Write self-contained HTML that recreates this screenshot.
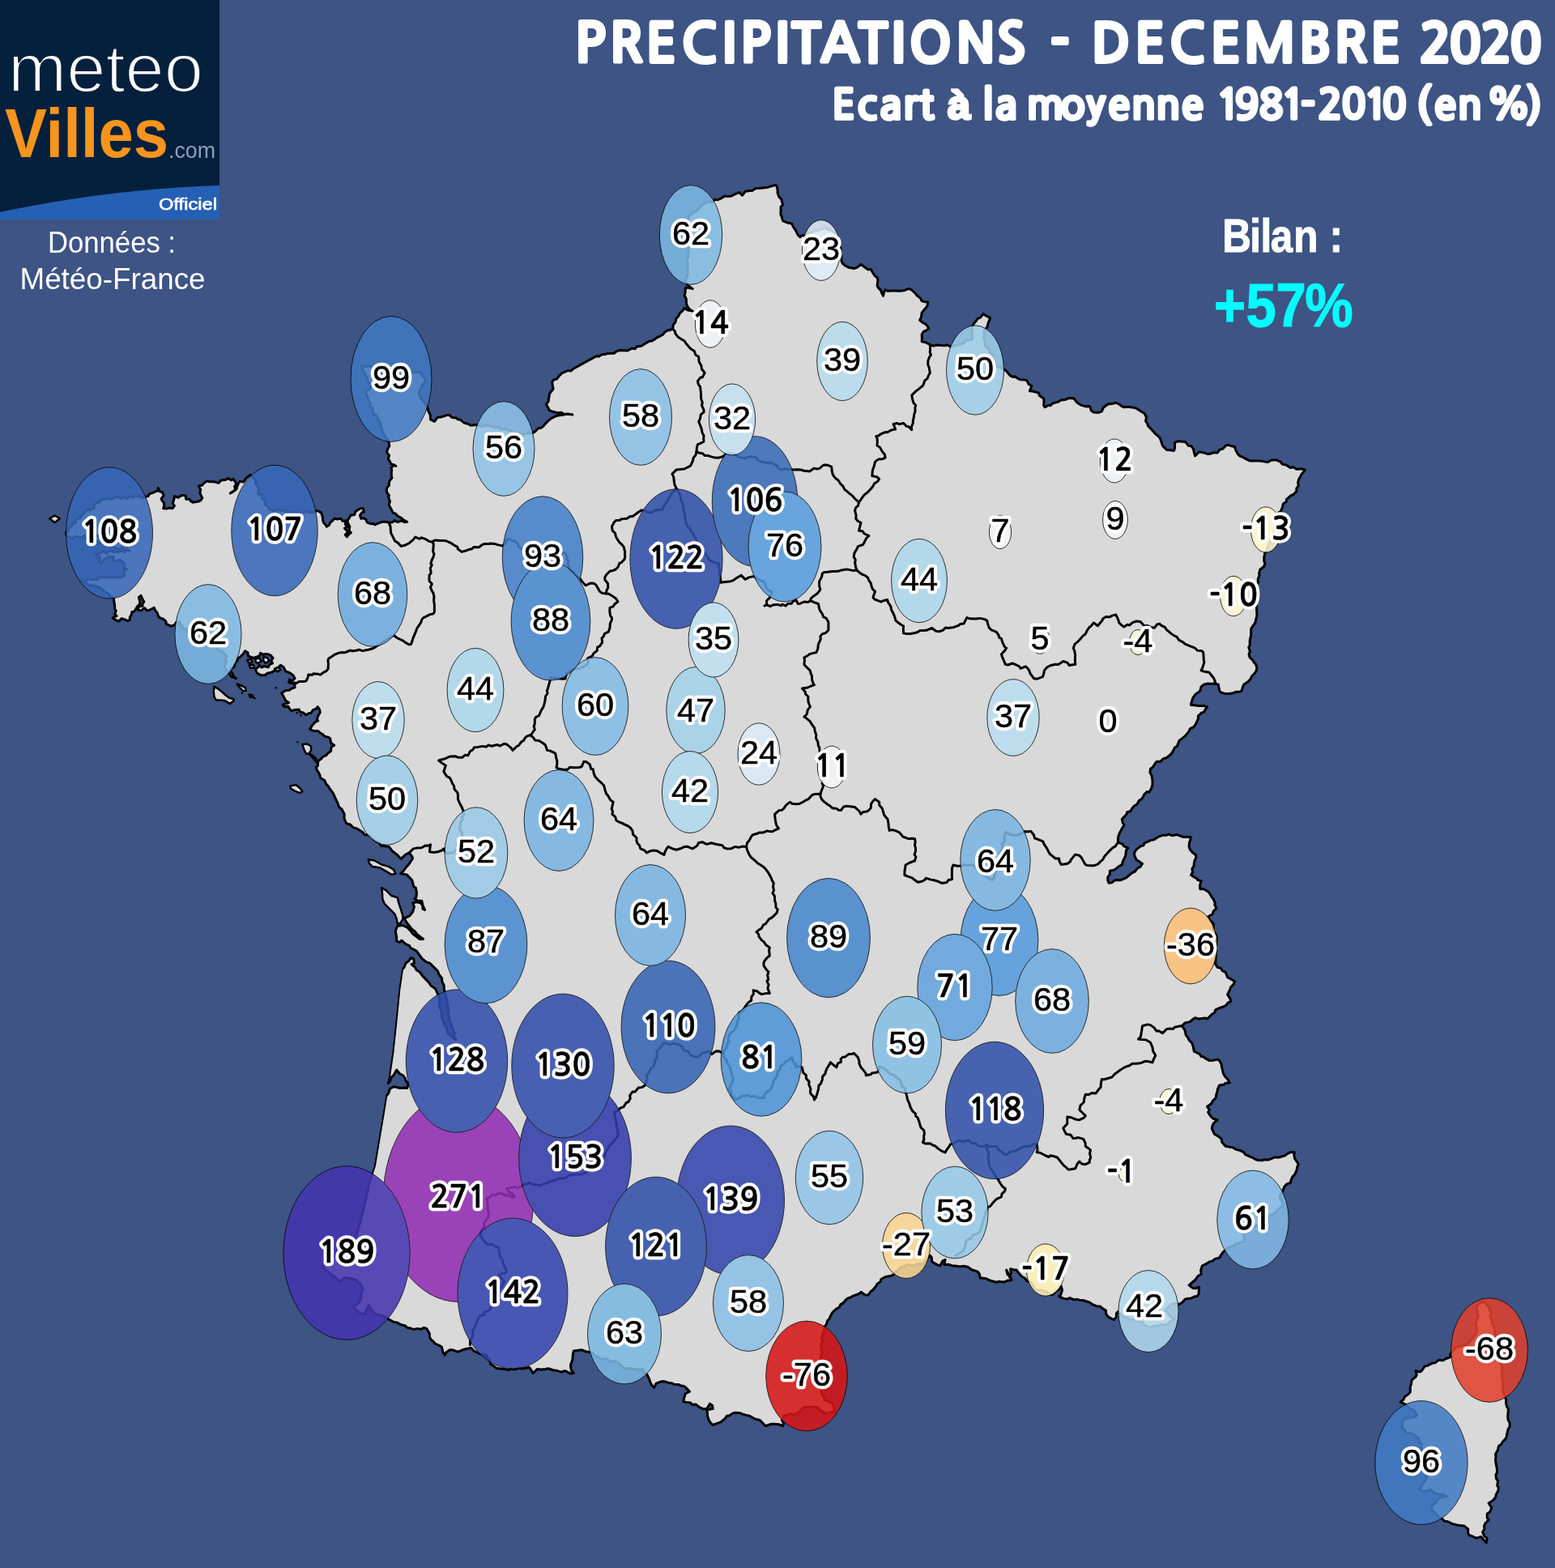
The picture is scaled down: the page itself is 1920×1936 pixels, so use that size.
<!DOCTYPE html>
<html lang="fr"><head><meta charset="utf-8"><title>Précipitations - Décembre 2020</title>
<style>
html,body{margin:0;padding:0;background:#3d5484;}
body{width:1920px;height:1936px;overflow:hidden;position:relative;font-family:"Liberation Sans",sans-serif;}
svg{position:absolute;left:0;top:0;display:block;}
.el{stroke:#000;stroke-width:.9px;}
.n{font-family:"NanumGothic","Liberation Sans",sans-serif;font-size:38px;font-weight:bold;}
.t{font-family:"Liberation Sans",sans-serif;fill:#fff;}
.tn{font-family:"NanumGothic","Liberation Sans",sans-serif;fill:#fff;}
</style></head><body>
<svg width="1920" height="1936" viewBox="0 0 1920 1936">
<rect width="1920" height="1936" fill="#3d5484"/>
<g fill="#d9d9d9" stroke="#000" stroke-width="3" stroke-linejoin="round">
<path stroke-width="2" d="M957.9,228.1 959.6,231.7 960.2,235.6 960,237.8 961.6,242.6 965,246.2 965.2,248.2 966.6,252.6 964,255.8 964.1,260.1 963.9,264.4 965.1,267.4 966.6,272.7 971.3,274.7 974.8,275.5 977.9,276.4 979.1,279.5 982.9,285.2 984.9,289.7 987.9,292.7 989.7,291.1 995,290.4 998,287.7 1003.1,286.7 1005.5,285.2 1010.7,284.6 1013.8,282.8 1018,281.9 1020.5,281.4 1022.2,283.8 1027,284.2 1030.5,287.7 1030.6,292 1032.9,295.2 1034.8,299.3 1037,303.8 1038,307.7 1038.6,313.6 1038.9,318.1 1039.1,322.8 1040.5,325.3 1043,327.6 1048.1,330.3 1055,331.4 1058.1,330.3 1063.1,326.5 1068.1,330.3 1071.7,332.8 1075.6,332.8 1077,335.7 1080,340.3 1083.1,342.8 1084,345.4 1083.1,352.9 1084.4,355.3 1088,358.8 1088.2,360.9 1090.6,365.3 1091.6,360.5 1093.2,357.8 1095.7,359.2 1100,358.9 1105.7,359.1 1109.6,359.2 1116.3,358.7 1120.6,357 1123.2,356.6 1126,358.2 1130.7,362.8 1132,364.8 1136.2,367.9 1138.2,371.6 1140.9,372.4 1145.8,372.9 1144.9,377.8 1142.4,381 1140.8,382.9 1138.2,386.2 1137.5,391.3 1135.7,395.4 1139.6,398.5 1143.3,400.4 1147,405.4 1143.7,408 1140.3,409.4 1138.2,412.9 1138.4,418.1 1138.2,421.7 1142.7,422.6 1148.3,425.5 1152.7,427.2 1155.3,426.1 1161.7,426.2 1165.8,426.7 1170.1,426 1173.3,428 1175.7,427.7 1180.3,426.4 1183.6,425.6 1188.2,424.4 1190.9,423 1192.4,420.6 1199,419.5 1200.9,418 1200,414.5 1200.8,411.2 1199.9,407.6 1200.1,403.4 1202.5,399.4 1205.1,396.4 1207.3,393.3 1210.4,392.2 1213.9,387.6 1219,390.6 1222.7,392.4 1220.2,398.9 1218.9,403.9 1214.7,409.2 1215.5,412.3 1214.3,416.6 1216.5,421.1 1215.9,425.5 1217.1,428 1221,431 1222.5,435.3 1225.9,438 1225.8,441.1 1229,445.8 1228.5,449.5 1230.9,453 1233.8,453.1 1238.5,455.5 1241,456.8 1243.2,459 1247.3,463.8 1250.1,465.2 1253.4,465 1257.9,468.1 1260.7,468.8 1265.2,468.9 1268.3,470.2 1269.9,474.2 1273.9,476.5 1271.4,482.7 1275,483 1278.7,484.1 1282.7,485.2 1283.2,488.3 1288.9,492.3 1289,495.2 1288.7,500.7 1290.2,502.8 1294.7,500.3 1296.8,500.9 1300.3,497.7 1306.9,496 1310.3,494 1315.1,493.6 1318.8,491.8 1324.1,491.5 1326.5,492.5 1329.2,496.3 1332.8,499 1335.3,500.4 1341.5,502 1345.3,501.5 1347.6,507.2 1350.4,509 1355.9,509.6 1360.4,507.8 1362.3,503.3 1364.3,501.8 1367.9,499 1373.1,498.6 1377.9,497.2 1382.5,499.5 1384,501 1387.9,502.8 1393.3,502.3 1397.3,503.1 1400.5,503.3 1403.9,504.7 1409.8,508.6 1413,510.3 1415.5,515.2 1414.6,520 1416.7,522.8 1417.4,525.6 1421.8,530.3 1426.4,535.4 1429.3,537.8 1432.2,540.6 1434.1,546 1435.5,550.4 1440.5,555.4 1444.8,555.8 1449.3,556.6 1450.5,553.7 1450.6,546.6 1453.9,544.8 1460.6,545.3 1463.3,545.4 1467.6,550.5 1470.6,550.4 1473.4,554.1 1474.2,557.9 1475.6,562.9 1480.6,557.9 1486.3,558.9 1490.6,560.4 1494.4,560.3 1498.3,558.7 1503.2,559.1 1505.9,555.2 1510,554.1 1513.2,550.4 1516.1,549.4 1521.1,550.9 1524.5,551.6 1525.6,555.4 1528,559.9 1530.7,562.9 1534.6,564.6 1539.8,567.4 1543.3,569.1 1548.1,568.9 1550.8,569 1555.8,569.1 1561.6,570 1565.8,570.4 1570.2,568 1575.8,567.9 1581.4,570.4 1583.2,573.1 1588.4,574.2 1593.1,577.4 1596.9,576.8 1600.9,579.2 1607.6,578.8 1611.4,580.4 1607.4,585 1605.9,587.9 1603.6,591.9 1602.7,595.4 1603.2,599.9 1600.9,603 1600.9,606.4 1597.1,610.5 1593.9,611.8 1588.4,616.7 1588.3,619.5 1584.4,622.1 1583.3,626.8 1581.2,631.6 1578.3,633 1578.3,638 1575.9,641.4 1574.4,644.2 1574.4,646.5 1573.3,651.7 1573.3,655.6 1563.3,680.6 1561.8,683 1560.8,688.1 1560.9,693.3 1562,695.7 1560.4,699.8 1555.8,703.2 1554.6,708.1 1555.1,710.2 1553.3,715 1553.4,719.2 1551.4,722.1 1551.9,726.1 1550.8,730.1 1552,760.1 1550.9,764.2 1549.8,769 1547,772.7 1544.8,776.3 1544.8,779.8 1544.5,785.2 1543.4,789.7 1543.1,792.7 1543.3,796.9 1541.8,799 1543.5,804.8 1542,807.7 1543.1,811.7 1546.7,814.9 1548.3,817.7 1550.7,820.4 1552,825.3 1550.8,829.1 1549.1,831.2 1545.2,835.5 1544.5,837.8 1541.5,841.2 1538,843.7 1535.7,845.3 1534.4,848.3 1533.2,852.8 1530.9,854.1 1525.6,854.3 1521.8,856 1516.4,856.5 1513.2,856.6 1507.5,854.9 1505.7,852.8 1504.9,848.8 1504.4,845.3 1500.7,844.1 1494.3,844.2 1490.6,844.1 1486.3,845.2 1483.1,847.8 1481.9,852.8 1478.2,855.8 1475.6,857.8 1473.1,861.3 1471,867.5 1470.6,870.4 1474.5,870.8 1480.6,871.6 1486.6,871.6 1490.6,872.9 1487.6,876.9 1486.9,879.1 1483.3,880.2 1479.4,884.1 1479.3,887.9 1476.9,892.9 1474.2,897.4 1469.3,899.9 1468.1,902.9 1464.3,907.7 1462,909.8 1458.1,912.9 1455.9,914.7 1453.4,921.3 1450.6,923 1448.1,928 1445.2,931.8 1440.5,935.5 1435.7,937.2 1433.3,940 1428,940.5 1425.7,943.5 1423.5,947.1 1420.5,949.3 1419.9,953.7 1421.8,957.1 1423,963 1423,968.8 1421.8,973.1 1419,978 1416.2,977.5 1412.6,981.3 1410.5,985.6 1406.2,988.8 1404.2,992.7 1400,995.4 1398,998.1 1395.5,1001.8 1391.6,1002.8 1391.1,1005.1 1388.2,1008.4 1385.4,1011.3 1386.2,1015.8 1387.9,1018.8 1385.9,1022 1382.9,1027.6 1381.1,1031.6 1380.4,1035.1 1380.4,1040.1 1386.3,1042.3 1387.2,1044.5 1392.9,1047.1 1390.5,1049.7 1389.7,1056.7 1387.9,1060.1 1386.3,1063.9 1385.4,1067.6 1381.5,1069.7 1377.9,1072.7 1375.3,1074.2 1370.4,1075.2 1370.2,1080 1367.9,1082.7 1367.8,1086.7 1369.1,1090.2 1372.7,1089.8 1376.1,1087.1 1380.4,1086.4 1383.8,1086.7 1390.4,1083.9 1393.4,1081.4 1398,1077.7 1401.4,1076.1 1404.1,1072.4 1408,1070.1 1410.5,1066.4 1406,1063.3 1403,1061.4 1401,1056.7 1400.5,1053.9 1401.7,1050.8 1403.8,1048.2 1408,1045.1 1412.1,1043.6 1413,1041 1417.9,1038.9 1420.5,1037.6 1425.4,1036.6 1427,1035.1 1430.7,1033 1435.5,1031.3 1440.1,1031.2 1443.4,1030.1 1447.1,1031.7 1453.1,1030.6 1458.7,1032.5 1461.2,1033.5 1466.5,1033.2 1470.6,1033.8 1469.1,1038.9 1468.5,1040.6 1468.1,1045.1 1469.4,1049.1 1472.6,1052.8 1476.4,1055.4 1476.9,1058.9 1475.2,1062.2 1474.4,1065.7 1474,1069.6 1471.9,1072.7 1472.6,1076.7 1470.6,1080.2 1473.4,1082.4 1477.9,1084.8 1478.5,1086.3 1483.1,1087.7 1481.6,1093.1 1481.9,1097.7 1486.1,1097.5 1490.6,1100.2 1492.9,1101.9 1496.4,1108.1 1498.2,1110.2 1500.3,1114.9 1499.8,1116.8 1501.9,1121.5 1498.3,1125 1496.9,1129 1491.9,1131.5 1493.3,1135.7 1495.3,1137.4 1498.2,1140.3 1498.1,1145.5 1498.3,1147.8 1499.3,1151.6 1501.6,1153.7 1502.4,1157.9 1501.9,1162.8 1500.7,1190.4 1503.2,1194.2 1507.1,1195.4 1509.7,1198.9 1513.2,1200.4 1515.7,1206.7 1520.7,1209.3 1524.5,1211.7 1523,1215.6 1519.8,1218.6 1518.2,1223 1515.7,1228 1519.1,1233.4 1519.5,1236.7 1516.5,1238 1513.8,1241.3 1510.7,1243 1506.7,1244.2 1500.7,1246.8 1499.9,1250.1 1495.7,1253 1490.6,1258 1488,1256.9 1484,1257.6 1480.3,1258 1475.6,1256.8 1472.7,1258.6 1469.2,1261.6 1463.1,1263 1459.3,1266.8 1461.9,1270.1 1463.2,1272.4 1464.3,1278.1 1466.8,1281.1 1468,1283.9 1471.9,1288.1 1473.3,1292.6 1474.4,1298.1 1481.2,1301.3 1483.1,1304.4 1485.7,1304.8 1489,1307.2 1493.2,1309.4 1497.6,1309.2 1503.2,1308.1 1505.7,1309.4 1508.2,1314.4 1508.6,1317.8 1509.8,1322.4 1510.5,1325.9 1513.2,1330 1515.8,1332.4 1518.2,1337 1513.4,1337.2 1511.3,1339.1 1505.7,1340 1503.4,1345 1503.4,1345.9 1501.9,1351.3 1501.4,1355 1496.9,1360.1 1495.6,1362.8 1490.6,1366.3 1493.3,1370.1 1491.7,1373.3 1494.4,1377.6 1498,1381.3 1503.2,1382.6 1498.3,1387 1496.9,1390.1 1496.4,1393.6 1499.4,1400.2 1504.5,1403.1 1508.2,1406.4 1508.7,1410 1513.2,1415.2 1518.7,1416.2 1521.5,1416.5 1525.7,1419 1531.6,1420.6 1535.7,1422.7 1537.5,1425.3 1542.7,1427.9 1545.8,1429 1549.9,1431.3 1553.3,1432.5 1558.3,1432.7 1561.5,1431.8 1566.7,1431.9 1570.8,1430.2 1573.7,1428.9 1579.6,1429.1 1583.3,1427.7 1586.6,1426.8 1589.1,1424.8 1593.4,1422.7 1598.4,1422.7 1597.8,1425 1598.4,1430.2 1601.5,1434.7 1603.4,1437.7 1602,1440.1 1600.9,1445.3 1598.4,1450.5 1595.9,1452.8 1593.9,1457.6 1593.4,1460.3 1589.1,1461.8 1585.8,1465.3 1583.3,1471.6 1580.8,1475.3 1580.4,1480 1582.5,1482.4 1583.9,1486.1 1583.3,1490.4 1580.5,1490.6 1578.1,1493.6 1574.6,1497.7 1572.8,1498.3 1568.3,1500.4 1565.5,1504 1563.1,1504.2 1558.3,1509.5 1555.8,1510.4 1552.7,1512.9 1548.5,1514.3 1544.8,1515.5 1543.2,1516.6 1540.6,1519 1535.7,1520.4 1534.7,1523.3 1537.1,1530.3 1535.7,1532.9 1529.3,1535.4 1525.7,1535.4 1523,1538.2 1518.5,1540 1515.7,1540.5 1510.7,1545.5 1507.6,1549.5 1505.7,1553 1500,1554.4 1497.2,1556.9 1493.2,1558 1490.3,1559.9 1484.4,1563 1482.7,1568.2 1483.1,1573 1479.6,1575.2 1475.6,1580.5 1471.9,1583.5 1468.1,1586.8 1473.1,1590.6 1475.7,1590.8 1480.6,1589.3 1480.2,1593.1 1480.2,1597.3 1478.1,1600.6 1474.4,1601.1 1470.6,1603.1 1466.5,1603.3 1463.1,1604.3 1460.3,1607.7 1455.6,1610.6 1451.3,1609.1 1445.6,1610.6 1443.2,1613.3 1438,1618.1 1440.8,1619.3 1444.1,1624.6 1448,1627.5 1450.6,1628.1 1445.9,1631.2 1444,1632.9 1440.5,1635.7 1435,1635.4 1432.3,1635.8 1428.6,1637.1 1422.9,1637.4 1420.5,1639.4 1415.1,1637 1413.7,1636.5 1410.2,1632.6 1405.5,1630.6 1401,1629.2 1396.3,1629.2 1393.5,1627.6 1388.5,1625.8 1385.4,1624.4 1380.4,1619.4 1378.4,1621.8 1378.4,1626.1 1375.4,1629.4 1372.8,1628.4 1367.9,1625.6 1365.4,1621.4 1365.4,1618.1 1361.1,1615.3 1358.4,1613 1355.4,1613.1 1352.8,1612.2 1348.5,1610.3 1345.3,1608.1 1341.4,1606.7 1337.8,1605.6 1332.9,1605.2 1330.3,1604.3 1326,1604.7 1320.6,1602.5 1318,1604.1 1312.8,1603.1 1307.8,1600.6 1309.7,1598.7 1311.5,1593.1 1310.3,1588.1 1307.7,1592.3 1304.4,1593.8 1300.3,1598.1 1296.9,1598.6 1292.6,1595.3 1287.7,1593.5 1286.1,1593.1 1280.2,1593.1 1277.9,1591.6 1275.4,1586.9 1272.7,1583 1268.1,1581.5 1265.2,1578 1261.5,1576 1257.2,1571.1 1255.2,1568 1252.1,1567.8 1247.6,1566.8 1248.4,1571.7 1246.4,1576.8 1244.6,1571.6 1242.6,1568 1244.1,1573.8 1246.9,1574.8 1248.9,1580.5 1243.3,1581.3 1240.1,1583 1235.4,1582.6 1233.3,1582.3 1230.2,1583.2 1225.1,1581.8 1220.3,1580.1 1218,1578.7 1212.7,1578.1 1210.1,1578 1209.6,1573.6 1207.6,1570.5 1203.2,1568.6 1199.8,1567.8 1195,1564.3 1189.8,1563.3 1187.8,1563.5 1183.8,1563.8 1180,1563 1175.8,1562.8 1171.1,1561.3 1165.8,1561.5 1167.1,1555.2 1163.8,1557.1 1160.8,1562.8 1157.2,1561.6 1153.1,1559.2 1150.8,1557.7 1150.1,1552.3 1148.3,1550.2 1146.5,1552.1 1143,1556.9 1140.8,1560.3 1137.7,1560.7 1132,1560.6 1129.1,1562.8 1125.7,1562.4 1120.4,1561.4 1118.2,1562.8 1115.6,1563.8 1112.1,1565 1108.2,1569.2 1105.7,1570.3 1103.2,1574 1099.3,1575.6 1093.2,1576.5 1087.8,1579.5 1087.1,1582.5 1083.1,1585.3 1081.8,1587.8 1077.7,1592.8 1075.6,1594.1 1071.9,1599.1 1068,1598.8 1063.1,1595.3 1060.7,1597.5 1053.9,1599.8 1050.6,1601.6 1046.5,1603.2 1045,1604.3 1040.4,1609.5 1038,1610.4 1036.2,1614 1032,1616.5 1028,1620.4 1026.6,1622.5 1023.8,1628.7 1021.8,1630.4 1020.2,1635.8 1018,1637.9 1017.2,1645.1 1015.5,1647.9 1014.6,1652.8 1016,1655.2 1013.8,1659.9 1014.2,1665.5 1015.4,1670.7 1013.4,1672.4 1013.5,1678.2 1015.4,1680.8 1015.7,1687.9 1015.5,1690.5 1016,1693.5 1016.2,1697.7 1015.2,1704.5 1016,1706.3 1013,1713 1014.2,1715.6 1013.8,1719.3 1017.6,1725.3 1018,1728.1 1021.9,1730 1023.6,1730.3 1028,1733.1 1029.9,1739 1030.5,1743.1 1025,1743.6 1020.5,1745.6 1016.6,1743.5 1012.8,1741.3 1010.6,1738.7 1005.5,1736.9 1000.4,1737.5 998.7,1737 992.9,1737.6 990.4,1739.4 988.3,1742.2 985.5,1744.2 980.4,1746.9 976.4,1745.8 973.2,1746.5 967.9,1748.1 965.4,1753.2 967.6,1757.8 966.6,1760.7 961.6,1758.7 959.2,1758.5 955.4,1758.2 951.8,1758.3 945.3,1760.7 941.8,1757 937.8,1753.2 932.9,1752.3 929.2,1750.3 925.3,1748.1 921.6,1747.4 916.5,1745.9 912.8,1744.4 907.4,1744.2 904,1745.4 900.2,1748.1 897.7,1748.1 895.6,1751.2 890.2,1755.7 884.3,1757.9 880.2,1759.4 877,1756.2 875.2,1753.2 873.4,1747.6 873.4,1744.9 872.7,1740.6 877.6,1739.9 880.2,1739.4 879.6,1735.4 876.5,1733.1 874.6,1736.6 872.7,1739.4 867.7,1739.5 862.7,1736.9 859.1,1733.9 854.5,1734.3 852.7,1731.9 846.6,1731.3 843.9,1730.6 844.5,1726.6 846.4,1720.6 851.4,1718.1 847.4,1713.9 845.1,1711.8 840.2,1710.8 838.2,1709.4 833.7,1709.6 830.1,1708.1 826.3,1707.6 820.6,1705.7 817.6,1705.6 814.8,1706.3 810.1,1708.1 807.6,1713.1 804.6,1710.2 802.5,1705.6 801.5,1702.3 798.8,1696.8 795.5,1694.9 793.4,1690.5 791.1,1691.2 784.6,1690.4 781.4,1690.4 777.4,1689.5 774.8,1689.3 770.9,1690.5 768.7,1687.5 763.4,1683 760.5,1681 755.2,1680.8 753.5,1680.9 749.3,1678 745.8,1678 742.7,1678.1 738.9,1675.7 733.3,1673 731.5,1670.7 727.1,1669.2 722.9,1668.7 718.3,1666.7 713.6,1667.3 708.3,1668 707.2,1673.6 707,1678 706.3,1680.6 704.5,1685.5 705.3,1691.8 708.3,1695.5 704.1,1695.9 698.4,1692.8 695.7,1693 693,1694.1 687.6,1692.3 683.2,1691.8 677,1689.8 673.2,1690.5 668.5,1691 663.2,1690.5 658.2,1695.5 655.1,1690.5 653.2,1688 649.5,1689.3 644.5,1690.1 640.6,1689.3 634.8,1691.1 631.6,1689.8 628.5,1691.4 623.1,1690.5 616.7,1689.8 613.1,1689.3 610.1,1687.1 605.6,1684.3 605,1679.5 602.7,1677.6 600.5,1673 593.8,1671.9 590.5,1670.5 585.4,1668.2 581.8,1664.2 575.5,1665.5 571,1666.8 565.5,1669.2 559,1666.8 555.4,1666.7 550.9,1669.7 549.2,1673 547.1,1670.1 545.4,1663 542.5,1661.4 537.3,1659 535.4,1656.7 531.6,1653.3 530.4,1650.4 530.3,1646.5 526.6,1640.4 523.2,1639.2 520.1,1641.3 515.4,1640.4 511.1,1641.4 505.8,1639.8 502.8,1639.2 500.6,1637 494.7,1635.5 490.3,1632.9 486,1632.3 480.3,1629.1 475.3,1625.4 470.7,1624.6 468.8,1623.7 464,1622.5 460.3,1620.4 458.4,1616.8 455.2,1611.6 453.4,1614.3 451.3,1619.3 450.2,1622.9 445.3,1621.5 442.4,1619.4 438.7,1616.8 435.2,1615.4 437.2,1613.1 443.4,1608.3 445.2,1605.3 445.8,1601.3 446,1596.5 447.5,1595 447.7,1590.3 445,1585.1 441.3,1582.6 440.2,1580.3 437.4,1579.9 433.3,1578.5 428.8,1577.7 425.2,1577.8 421.9,1580.7 417.7,1581.5 415.3,1578 410.6,1575 408.2,1573.2 405.1,1570.3 400.5,1566.1 397.6,1564 422.7,1542.7 424,1540.1 429.2,1537.3 431.9,1532.6 435.3,1531.8 439.1,1528.4 440.2,1525.2 447.7,1497.6 455.2,1465.1 460.3,1447.5 462.8,1440 465.3,1425.7 470.3,1395.6 475.3,1365.6 477.3,1353 479.7,1349.7 481.5,1344.3 486.2,1341.8 490.3,1342.5 493.9,1343.5 498.9,1343.1 502.8,1343.5 504.1,1338 501,1334.5 500.3,1331.5 497.8,1328 492.9,1325.2 489.8,1321 487.5,1325.1 486.1,1327.6 482.8,1330.5 481.9,1334.4 479,1338 480.8,1330.5 485.3,1300.4 489.7,1258.8 493.4,1221.5 497.1,1196.6 499,1194.5 501,1189.2 504.6,1186.7 507.7,1182.4 510.8,1184.2 511.4,1189.2 508.1,1190.7 512,1193.7 514.5,1197.9 517.8,1199.7 522,1205.3 526.9,1210.4 529.4,1212.8 532.4,1217.3 536.9,1220.2 538.4,1222.5 540.6,1227.7 542.3,1231.2 543.1,1236.4 542.2,1239.4 543,1244.6 545.1,1247.7 545.6,1252.5 545.2,1256.3 547.9,1261.7 549.3,1266.2 551.7,1268.7 552.6,1275.2 555.5,1277.4 560,1282 563,1283.6 560.4,1279.1 561.5,1276 559.3,1271.2 557.8,1266.4 556.6,1263.7 555.2,1260.6 554.6,1257.4 554.3,1253.8 553.1,1248.6 553.8,1245.6 553,1241.8 551.8,1237.6 552,1234.1 550.2,1229 549.3,1225.2 548.6,1222.5 548.1,1216.5 545.8,1211.9 545.6,1207.8 541.8,1203 540.6,1199.1 536.4,1194.9 534.4,1192.9 530.6,1189.1 527,1188 524.8,1186.7 520.7,1183 517,1178 514.5,1174.3 510.1,1171.9 507.1,1170.6 505.5,1167.7 500.9,1165.6 495.9,1161.2 493.4,1163.4 489.7,1162.1 489.7,1156.9 488.3,1150.1 489.1,1147 490.9,1143.2 497.1,1142.6 502.1,1144.5 507.1,1149.4 509.6,1153 513.3,1155.7 518.3,1159.6 522.6,1159.4 519.5,1157.1 514.5,1153.2 512.8,1150.5 508.3,1147 505.6,1143.3 503.4,1140.7 500.9,1137 499,1133.3 501.6,1132.7 505.8,1130.8 509.6,1125.8 511.4,1119.6 509.6,1114.7 514.5,1113.7 519.5,1114.9 521.9,1118.5 522,1122.1 524.5,1123.4 522.2,1118.4 520.7,1112.2 515.8,1112.2 512,1109.7 514,1107.4 514.5,1102.2 513.3,1096 510.8,1094.7 509.6,1089.8 508.6,1086.5 505.8,1083.6 502.1,1079.9 496.9,1079.1 494.7,1078.6 498.4,1074.9 502.1,1069.9 504.4,1067.6 507.1,1063.7 509.6,1060 508.8,1057.6 505.3,1052.9 500.3,1055.4 495.3,1060.5 490.3,1055.4 486,1052 484.2,1050.7 480.3,1045.4 476,1044.8 470.3,1044.2 468.7,1041 462.8,1037.9 457.7,1032.9 454.6,1030.9 450.2,1030.4 447.6,1027.3 444.3,1025.3 440.2,1022.9 435.8,1021.6 432.8,1018.2 427.7,1016.6 426.1,1013.3 425,1009.9 425.2,1005.3 423.3,1001.6 421.8,998.7 418.7,996.8 417.3,992.4 415.2,987.8 413.7,984.9 411.7,980.1 409.2,976.4 407.3,974 405.1,970.3 403,968.6 400.8,963.5 395.8,960.5 395.1,957.7 393.5,953.9 392.1,952.1 390.1,947.7 392.4,945.4 392.6,940.2 397,936.4 398.6,934.3 402.6,932.7 404.6,930.2 408.5,927.5 409,922.5 412.7,920.2 408.6,917.2 407.7,911.7 405.1,910.1 400.8,909.1 398.6,906.9 395.9,905.3 392.6,902.6 386.8,902.3 382.6,900.1 386.3,894.7 389.5,891.2 392.6,890.1 391.4,887.5 393.4,882.7 395.2,879.7 394.7,876.4 392.2,872.7 390.3,875.2 386.4,876.7 384.1,880.2 381.8,880.5 377.8,882.7 374.4,880 370.3,878.9 369.2,876.1 364,876.4 360,877.8 357.7,875.2 355.6,872.1 351.5,872.7 349,870.1 352.7,868.9 356.5,867.6 352.7,865.1 350.2,860.1 347.7,855.7 352.7,852.6 357,852.3 360.3,850.1 364,848.9 364,843.8 360.3,843.7 356.5,842.6 357.7,838.8 360.3,841.3 364,837.6 362.8,835.1 361.5,833.4 357.7,830.7 352.7,828.8 350.2,823.8 346.5,821.3 343.2,824.4 340.2,825.1 338.6,828.4 335.2,830.1 330.2,831.3 327.2,833.5 322.7,833.8 317.7,831.3 315.2,826.3 318.7,823.8 320.2,821.3 322.8,824 326.4,822.5 331.4,823.8 332.6,820.6 336.5,818.8 334.6,816.1 337.1,812.5 333.9,808.8 330.6,807.7 327.7,807.5 325.1,808.3 321.4,806.3 320.9,809.5 316.4,811.3 312.7,812.5 310.2,811.5 306.4,810 306,805.8 302.6,803.8 300.1,807.5 296.4,811.3 293.9,812.5 292.8,815.9 290.1,818.8 288.9,823.9 285.1,825.1 285.1,828.8 287.6,832.6 288.3,835.3 291.4,837.6 288.2,836.3 285.1,835.1 282.6,830.7 279.8,827.6 277.2,824.7 277.6,821.3 279.4,817.2 277.9,812.8 280.5,810.5 278.2,808.3 275.6,805.6 273,803 269.7,803.2 266.9,799.6 265.7,797.7 261.3,796 257.6,795.3 255.4,795.5 251.2,795.9 250.9,792 245.5,791.7 242.2,792.2 240.4,790.5 239.8,786.9 235.3,787.2 235.3,782.1 231.3,781.2 231.7,777.2 225,776.1 225.4,773 222.6,772.2 222.1,768.1 217.9,768 215.4,771.7 210.8,773.2 209.3,772.2 205.3,770.5 204.8,767.1 202,764.5 197.8,763 195.5,761 194.1,756.4 191.7,753.8 190.3,750.4 185.3,752.9 181.5,753.9 178.7,750.8 177.3,751.4 174,754.1 170.3,752.9 171.6,748.5 176.2,748.2 175.6,746.3 177.8,742.9 176.3,740.6 174,735.4 171.4,737.4 172.8,743.1 172.3,746.2 170.3,747.9 168.1,751.4 165.8,755 162.8,755.4 162.5,758.5 160.4,762.2 160.3,765.5 157.8,766.7 154.6,765.1 150.2,763.7 146.7,767.1 142.7,765.5 139,763 144,760.5 141.7,758.1 143.2,754.2 141.7,751.5 141.6,746.9 140.9,743.7 140.8,742.1 140.2,737.9 136.1,736.9 135.4,734.6 132.1,732 130.1,731.4 128.3,730.2 125.4,727 122.7,725.4 120,724.4 116.5,723.1 112.6,723.1 109.9,722.4 107.3,721.1 106.3,720.2 102.2,717.2 100.1,716.6 104.6,717.5 105.8,718 108.7,714.6 113.1,715.7 117.2,715 120.3,715.7 122.7,712.9 150.2,712.9 153.9,710.4 153.3,704 156.5,702.8 153.4,701.6 154,695.9 150.2,692.8 148.6,691.5 143.5,692.3 140.8,692.4 139.8,687.6 135.3,687.5 132.7,687.8 129.3,690.4 128,691.2 125.2,695.3 122,692.8 123.8,688.6 120.5,686.6 117.7,682.8 120.9,684.3 124.6,682.5 127.8,680.5 131.6,683.4 133,680.9 137.9,680 140.2,681.5 143.2,681 147.4,681.2 149.8,680.1 154.4,681.9 155.7,679.6 160.3,680.3 156.8,677.3 154,678.3 151,675.7 147.6,678.6 143.1,676.8 140.2,675.3 136.1,674.8 134.7,673 131.4,672 128.7,671.4 125.7,671 122.7,670.3 120.9,668.1 117.7,667.4 115.4,666.5 111.1,667.1 109,665.4 105.1,665.3 107.1,663.7 111.8,664.1 113.4,661 118.9,660.8 121.4,661.5 124.7,659.9 127.7,660.3 124,659.2 121.8,663.3 119.4,661.2 115.5,660.1 111.8,662.9 108.8,661.8 105.5,660.8 102.6,662.8 100.3,663.6 96,662.5 92.5,662.6 89.9,665.2 85.1,662.8 82.5,662.1 81.3,657.7 84.6,656 84.1,651.6 86.5,651.4 88.9,648.9 90.1,645.2 93.4,645.5 93.9,640.7 99.4,639.8 99.6,637.7 102.8,634.2 105.1,632.7 107.2,628.6 111.9,629.8 113.4,628 116,627.7 116.4,623.5 119.9,620.3 122.7,620.2 125.8,616.5 130.2,615.9 132.7,615.2 136.6,616.2 138.3,616.5 142.3,613.4 146.5,614 150.1,615.9 152.7,613.9 156.9,615.7 159.7,612.7 164.2,614.3 166.3,612.3 170.3,612.7 172.7,613.2 175.3,614.5 179.6,613.4 182.8,612.7 184.6,609.7 188.7,608.6 190.3,607.6 194.3,606.2 195.3,602.6 197.3,607.1 200.3,607.6 202.2,611.7 199.2,615.7 199.7,617.4 202.6,621.3 202.8,624.9 201.6,627.7 206.3,628.1 208.5,627 212.9,627.7 215.4,624.6 213.3,621.5 214.2,618.3 214.9,616.2 215.4,612.7 220.1,614.4 221.6,613.1 225.4,611.4 229.2,612.3 229.8,616.4 234.1,615.9 235.1,618.4 237.9,620.2 241.2,619.8 245.4,619.1 247.9,617.7 249.8,614.9 247.1,609.4 247.1,606.8 247.8,604.7 245.4,600.1 249.8,599 251.8,596.6 255.4,593.9 257.7,594.7 261.5,594.7 265.5,595.1 269.8,596.4 272.4,593.6 274.8,592.7 278,592.6 282.1,590.5 285.5,593 288,591.4 290.8,595.3 291.6,598 289.7,600.5 290.5,605.1 286.6,607.9 284.3,608.9 286.6,607.4 289.5,605.8 292,603.8 293,600.1 295.1,595.5 296.2,594.5 300.6,595 303.9,590.7 305.6,588.9 309.3,586.3 311.8,589.4 315.6,592.6 315.6,596.9 317.2,599.3 319.1,601.5 319.3,605.1 318.8,610.6 323.8,610.2 323.1,615.2 326.5,617.5 327.5,618.7 327.2,622.8 330.6,625.2 332.8,628.9 337.3,630.7 340.6,630.2 344.7,629.4 346.2,630.6 350.8,629.5 352.6,632.3 355.3,634 358.4,632.6 363.6,632.9 365.7,633.9 368,633.8 372.4,632.3 376.3,632.3 379.4,631.1 382.6,633.6 383.8,632.2 388.2,632.7 390.7,630.2 394.6,631.8 396.5,632.8 398.2,637.7 398.6,642.3 399.5,645.4 402.2,648.1 403.3,650.2 406.6,648.3 407.1,645.9 410.8,642.7 413,640.1 416.4,641.1 420.8,640.2 423.3,643.6 427.1,642.7 426.2,647.2 428.9,650.4 425.5,652.3 429.7,656.8 426.3,660.4 428.3,662.8 430.7,659.7 433.3,657.7 431.1,655.2 431.8,650.1 429.7,646.3 428.9,642.7 430.8,640.2 433,636.2 437.8,635.4 438.6,632.2 440.8,630.2 445.3,627.7 448.4,627.7 449.4,632.2 446.9,632.8 444.5,636.2 445.8,640.2 449,639.8 451.7,641.3 453.4,645.2 457.6,646.7 460.5,646.6 463.2,647.8 465.9,646.5 468.3,645.7 471.9,644.3 475.4,644.3 478,644.6 480.9,645.2 484.9,644.8 487.1,642.6 490.9,644.6 495.2,643.1 500.2,644.7 502.7,644.3 498,641.8 495,639.1 492.7,638.1 489.8,636 488.8,634.4 485.2,633.1 483.5,629.5 481.5,626 480.2,623 481.5,619 480.8,617.6 479.6,613.5 480.5,611.8 477.7,608 477.2,603.5 478.7,601.4 480.3,599.4 480.4,595.8 481.4,593 484,590.1 483.3,587.6 483.2,583.8 483.7,580.2 482.7,578 486.2,574.4 488.9,575.4 486.6,573.9 482.7,572.9 481.9,570.8 479.3,566.2 480.5,562.3 478.9,560.4 477.5,557.9 479,553.5 480.8,550.7 480.2,546.6 478.1,542.2 475.2,539.1 473,534.3 471.3,531 470.9,528.6 470.1,522.8 468,519.8 466.6,516.9 464.7,512.4 462,512.6 460.1,507.8 460.3,504.1 456.8,502.1 457.3,498 454.6,493.4 453.9,490.3 452.1,486.2 451.4,482.8 456.1,480.7 457.6,477.7 456.3,473.7 453.9,470.5 453.4,466.8 451.3,463 450.1,460.2 447.1,455.4 446.3,451.4 448.5,453.1 455.4,451.7 457.6,452.7 462.5,453.4 463.3,455.4 466.6,457 470.7,459.4 475.2,460.2 480.8,461.2 483.2,458.7 488.5,458.5 490.4,458.3 497.2,458 500.2,459 503.7,458.4 508.4,459.3 513.7,459.5 516.2,459.5 520.3,460.2 520.7,463.3 525,467.3 525.3,470.2 523.3,474.6 520.9,475.7 520.6,478.9 517.7,482.8 517.9,487.9 520.3,492.8 522.5,495 526.7,500 527.8,502.8 529,507.8 531.4,512.7 531.5,517.8 536.5,520.3 540.3,515.3 544.2,515 547.5,514.1 552.4,512.4 555.3,512.8 558.3,515.6 563.4,516 565.3,517.8 568.2,518.2 572.8,521.9 575.4,522.8 577.9,523.4 581.6,525.3 588.2,524.5 590.4,525.3 595.6,526.6 600.5,524.8 601.8,525.8 607.9,526.6 612.4,528.5 615.1,526.8 617.7,530 622.9,529.2 625.5,530.4 631.1,532 634.3,534.3 636.3,534.4 641.6,536 645.5,536.6 649.4,535.6 652,534.4 656.6,535.1 660.5,532.9 664.5,529 667.7,528.4 670.6,526.6 672.7,523.9 677.8,518.7 680.6,516.6 687,513.4 690.6,512.8 695.9,512 698.5,511.5 701.6,511.2 706.9,512.1 703.6,511.6 700.2,511.2 696.1,511.3 693.3,509.2 688.1,509.8 681.6,508 678.1,506.6 676.8,503.4 674.3,499 677,496.1 678.1,489 678.7,485.8 683.1,480.3 682.1,474.7 681.8,471.5 683.8,468.9 687.3,468 690.6,464 693.9,460.7 697.1,459.3 700.9,457.6 704.9,458 708.1,455.2 733.2,441.4 736.9,439.6 739.1,440.3 743.1,437.7 746.6,437.6 750.7,436.4 754,436.3 758.5,436.2 761.3,433.6 765.7,432.5 770.8,432.7 774.8,432.9 780.2,430.1 784,430.8 786.1,428 790.8,427.6 793.6,426.2 796.8,424.1 801.7,421.3 804.9,421 808.4,418.9 811.8,416.4 813.8,415.8 818.3,413.2 820.9,410.1 825.2,407.4 827.5,407.7 830.9,405.1 831.2,401 833.9,398 834.9,393.3 837.6,390.4 840,385.9 842.3,384.3 845.1,380.4 849.6,383.1 855.2,384.1 852.2,382.5 849.3,379.3 847.6,375.4 847.1,368.3 845.1,365.3 846,361.7 846.4,355.3 849.9,355 855.2,356.6 850.7,353.4 847.6,350.3 846.4,346.2 847.9,341.8 849.3,338.7 848.9,335 848.9,330.3 849.1,325.4 848.2,321.4 849.7,318.2 850.1,312.7 849.8,307.1 850.2,305 850.4,299.5 851.4,295.2 850.1,267.6 852.9,265.2 855.8,262.7 860.2,260.1 864.3,256.1 867.7,252.6 871.8,250.1 877.5,249.1 880.2,248.9 882.7,246.3 885.7,246.9 889.9,245.1 894.8,242.1 897.7,242.6 902.7,242.2 906.8,240 909.6,238.8 912.8,237.6 916.5,241.3 920.3,236.3 926,235.6 928.6,235.6 933.4,232.6 937.8,232.6 941.4,232.1 947.2,231.6 950.1,230.4 953,229.8 957.9,228.1Z"/>
<path fill="none" d="M957.9,228.1 959.6,231.7 960.2,235.6 960,237.8 961.6,242.6 965,246.2 965.2,248.2 966.6,252.6 964,255.8 964.1,260.1 963.9,264.4 965.1,267.4 966.6,272.7 971.3,274.7 974.8,275.5 977.9,276.4 979.1,279.5 982.9,285.2 984.9,289.7 987.9,292.7 989.7,291.1 995,290.4 998,287.7 1003.1,286.7 1005.5,285.2 1010.7,284.6 1013.8,282.8 1018,281.9 1020.5,281.4 1022.2,283.8 1027,284.2 1030.5,287.7 1030.6,292 1032.9,295.2 1034.8,299.3 1037,303.8 1038,307.7 1038.6,313.6 1038.9,318.1 1039.1,322.8 1040.5,325.3 1043,327.6 1048.1,330.3 1055,331.4 1058.1,330.3 1063.1,326.5 1068.1,330.3 1071.7,332.8 1075.6,332.8 1077,335.7 1080,340.3 1083.1,342.8 1084,345.4 1083.1,352.9 1084.4,355.3 1088,358.8 1088.2,360.9 1090.6,365.3 1091.6,360.5 1093.2,357.8 1095.7,359.2 1100,358.9 1105.7,359.1 1109.6,359.2 1116.3,358.7 1120.6,357 1123.2,356.6 1126,358.2 1130.7,362.8 1132,364.8 1136.2,367.9 1138.2,371.6 1140.9,372.4 1145.8,372.9 1144.9,377.8 1142.4,381 1140.8,382.9 1138.2,386.2 1137.5,391.3 1135.7,395.4 1139.6,398.5 1143.3,400.4 1147,405.4 1143.7,408 1140.3,409.4 1138.2,412.9 1138.4,418.1 1138.2,421.7 1142.7,422.6 1148.3,425.5 1152.7,427.2 1155.3,426.1 1161.7,426.2 1165.8,426.7 1170.1,426 1173.3,428 1175.7,427.7 1180.3,426.4 1183.6,425.6 1188.2,424.4 1190.9,423 1192.4,420.6 1199,419.5 1200.9,418 1200,414.5 1200.8,411.2 1199.9,407.6 1200.1,403.4 1202.5,399.4 1205.1,396.4 1207.3,393.3 1210.4,392.2 1213.9,387.6 1219,390.6 1222.7,392.4 1220.2,398.9 1218.9,403.9 1214.7,409.2 1215.5,412.3 1214.3,416.6 1216.5,421.1 1215.9,425.5 1217.1,428 1221,431 1222.5,435.3 1225.9,438 1225.8,441.1 1229,445.8 1228.5,449.5 1230.9,453 1233.8,453.1 1238.5,455.5 1241,456.8 1243.2,459 1247.3,463.8 1250.1,465.2 1253.4,465 1257.9,468.1 1260.7,468.8 1265.2,468.9 1268.3,470.2 1269.9,474.2 1273.9,476.5 1271.4,482.7 1275,483 1278.7,484.1 1282.7,485.2 1283.2,488.3 1288.9,492.3 1289,495.2 1288.7,500.7 1290.2,502.8 1294.7,500.3 1296.8,500.9 1300.3,497.7 1306.9,496 1310.3,494 1315.1,493.6 1318.8,491.8 1324.1,491.5 1326.5,492.5 1329.2,496.3 1332.8,499 1335.3,500.4 1341.5,502 1345.3,501.5 1347.6,507.2 1350.4,509 1355.9,509.6 1360.4,507.8 1362.3,503.3 1364.3,501.8 1367.9,499 1373.1,498.6 1377.9,497.2 1382.5,499.5 1384,501 1387.9,502.8 1393.3,502.3 1397.3,503.1 1400.5,503.3 1403.9,504.7 1409.8,508.6 1413,510.3 1415.5,515.2 1414.6,520 1416.7,522.8 1417.4,525.6 1421.8,530.3 1426.4,535.4 1429.3,537.8 1432.2,540.6 1434.1,546 1435.5,550.4 1440.5,555.4 1444.8,555.8 1449.3,556.6 1450.5,553.7 1450.6,546.6 1453.9,544.8 1460.6,545.3 1463.3,545.4 1467.6,550.5 1470.6,550.4 1473.4,554.1 1474.2,557.9 1475.6,562.9 1480.6,557.9 1486.3,558.9 1490.6,560.4 1494.4,560.3 1498.3,558.7 1503.2,559.1 1505.9,555.2 1510,554.1 1513.2,550.4 1516.1,549.4 1521.1,550.9 1524.5,551.6 1525.6,555.4 1528,559.9 1530.7,562.9 1534.6,564.6 1539.8,567.4 1543.3,569.1 1548.1,568.9 1550.8,569 1555.8,569.1 1561.6,570 1565.8,570.4 1570.2,568 1575.8,567.9 1581.4,570.4 1583.2,573.1 1588.4,574.2 1593.1,577.4 1596.9,576.8 1600.9,579.2 1607.6,578.8 1611.4,580.4 1607.4,585 1605.9,587.9 1603.6,591.9 1602.7,595.4 1603.2,599.9 1600.9,603 1600.9,606.4 1597.1,610.5 1593.9,611.8 1588.4,616.7 1588.3,619.5 1584.4,622.1 1583.3,626.8 1581.2,631.6 1578.3,633 1578.3,638 1575.9,641.4 1574.4,644.2 1574.4,646.5 1573.3,651.7 1573.3,655.6 1563.3,680.6 1561.8,683 1560.8,688.1 1560.9,693.3 1562,695.7 1560.4,699.8 1555.8,703.2 1554.6,708.1 1555.1,710.2 1553.3,715 1553.4,719.2 1551.4,722.1 1551.9,726.1 1550.8,730.1 1552,760.1 1550.9,764.2 1549.8,769 1547,772.7 1544.8,776.3 1544.8,779.8 1544.5,785.2 1543.4,789.7 1543.1,792.7 1543.3,796.9 1541.8,799 1543.5,804.8 1542,807.7 1543.1,811.7 1546.7,814.9 1548.3,817.7 1550.7,820.4 1552,825.3 1550.8,829.1 1549.1,831.2 1545.2,835.5 1544.5,837.8 1541.5,841.2 1538,843.7 1535.7,845.3 1534.4,848.3 1533.2,852.8 1530.9,854.1 1525.6,854.3 1521.8,856 1516.4,856.5 1513.2,856.6 1507.5,854.9 1505.7,852.8 1504.9,848.8 1504.4,845.3 1500.7,844.1 1494.3,844.2 1490.6,844.1 1486.3,845.2 1483.1,847.8 1481.9,852.8 1478.2,855.8 1475.6,857.8 1473.1,861.3 1471,867.5 1470.6,870.4 1474.5,870.8 1480.6,871.6 1486.6,871.6 1490.6,872.9 1487.6,876.9 1486.9,879.1 1483.3,880.2 1479.4,884.1 1479.3,887.9 1476.9,892.9 1474.2,897.4 1469.3,899.9 1468.1,902.9 1464.3,907.7 1462,909.8 1458.1,912.9 1455.9,914.7 1453.4,921.3 1450.6,923 1448.1,928 1445.2,931.8 1440.5,935.5 1435.7,937.2 1433.3,940 1428,940.5 1425.7,943.5 1423.5,947.1 1420.5,949.3 1419.9,953.7 1421.8,957.1 1423,963 1423,968.8 1421.8,973.1 1419,978 1416.2,977.5 1412.6,981.3 1410.5,985.6 1406.2,988.8 1404.2,992.7 1400,995.4 1398,998.1 1395.5,1001.8 1391.6,1002.8 1391.1,1005.1 1388.2,1008.4 1385.4,1011.3 1386.2,1015.8 1387.9,1018.8 1385.9,1022 1382.9,1027.6 1381.1,1031.6 1380.4,1035.1 1380.4,1040.1 1386.3,1042.3 1387.2,1044.5 1392.9,1047.1 1390.5,1049.7 1389.7,1056.7 1387.9,1060.1 1386.3,1063.9 1385.4,1067.6 1381.5,1069.7 1377.9,1072.7 1375.3,1074.2 1370.4,1075.2 1370.2,1080 1367.9,1082.7 1367.8,1086.7 1369.1,1090.2 1372.7,1089.8 1376.1,1087.1 1380.4,1086.4 1383.8,1086.7 1390.4,1083.9 1393.4,1081.4 1398,1077.7 1401.4,1076.1 1404.1,1072.4 1408,1070.1 1410.5,1066.4 1406,1063.3 1403,1061.4 1401,1056.7 1400.5,1053.9 1401.7,1050.8 1403.8,1048.2 1408,1045.1 1412.1,1043.6 1413,1041 1417.9,1038.9 1420.5,1037.6 1425.4,1036.6 1427,1035.1 1430.7,1033 1435.5,1031.3 1440.1,1031.2 1443.4,1030.1 1447.1,1031.7 1453.1,1030.6 1458.7,1032.5 1461.2,1033.5 1466.5,1033.2 1470.6,1033.8 1469.1,1038.9 1468.5,1040.6 1468.1,1045.1 1469.4,1049.1 1472.6,1052.8 1476.4,1055.4 1476.9,1058.9 1475.2,1062.2 1474.4,1065.7 1474,1069.6 1471.9,1072.7 1472.6,1076.7 1470.6,1080.2 1473.4,1082.4 1477.9,1084.8 1478.5,1086.3 1483.1,1087.7 1481.6,1093.1 1481.9,1097.7 1486.1,1097.5 1490.6,1100.2 1492.9,1101.9 1496.4,1108.1 1498.2,1110.2 1500.3,1114.9 1499.8,1116.8 1501.9,1121.5 1498.3,1125 1496.9,1129 1491.9,1131.5 1493.3,1135.7 1495.3,1137.4 1498.2,1140.3 1498.1,1145.5 1498.3,1147.8 1499.3,1151.6 1501.6,1153.7 1502.4,1157.9 1501.9,1162.8 1500.7,1190.4 1503.2,1194.2 1507.1,1195.4 1509.7,1198.9 1513.2,1200.4 1515.7,1206.7 1520.7,1209.3 1524.5,1211.7 1523,1215.6 1519.8,1218.6 1518.2,1223 1515.7,1228 1519.1,1233.4 1519.5,1236.7 1516.5,1238 1513.8,1241.3 1510.7,1243 1506.7,1244.2 1500.7,1246.8 1499.9,1250.1 1495.7,1253 1490.6,1258 1488,1256.9 1484,1257.6 1480.3,1258 1475.6,1256.8 1472.7,1258.6 1469.2,1261.6 1463.1,1263 1459.3,1266.8 1461.9,1270.1 1463.2,1272.4 1464.3,1278.1 1466.8,1281.1 1468,1283.9 1471.9,1288.1 1473.3,1292.6 1474.4,1298.1 1481.2,1301.3 1483.1,1304.4 1485.7,1304.8 1489,1307.2 1493.2,1309.4 1497.6,1309.2 1503.2,1308.1 1505.7,1309.4 1508.2,1314.4 1508.6,1317.8 1509.8,1322.4 1510.5,1325.9 1513.2,1330 1515.8,1332.4 1518.2,1337 1513.4,1337.2 1511.3,1339.1 1505.7,1340 1503.4,1345 1503.4,1345.9 1501.9,1351.3 1501.4,1355 1496.9,1360.1 1495.6,1362.8 1490.6,1366.3 1493.3,1370.1 1491.7,1373.3 1494.4,1377.6 1498,1381.3 1503.2,1382.6 1498.3,1387 1496.9,1390.1 1496.4,1393.6 1499.4,1400.2 1504.5,1403.1 1508.2,1406.4 1508.7,1410 1513.2,1415.2 1518.7,1416.2 1521.5,1416.5 1525.7,1419 1531.6,1420.6 1535.7,1422.7 1537.5,1425.3 1542.7,1427.9 1545.8,1429 1549.9,1431.3 1553.3,1432.5 1558.3,1432.7 1561.5,1431.8 1566.7,1431.9 1570.8,1430.2 1573.7,1428.9 1579.6,1429.1 1583.3,1427.7 1586.6,1426.8 1589.1,1424.8 1593.4,1422.7 1598.4,1422.7 1597.8,1425 1598.4,1430.2 1601.5,1434.7 1603.4,1437.7 1602,1440.1 1600.9,1445.3 1598.4,1450.5 1595.9,1452.8 1593.9,1457.6 1593.4,1460.3 1589.1,1461.8 1585.8,1465.3 1583.3,1471.6 1580.8,1475.3 1580.4,1480 1582.5,1482.4 1583.9,1486.1 1583.3,1490.4 1580.5,1490.6 1578.1,1493.6 1574.6,1497.7 1572.8,1498.3 1568.3,1500.4 1565.5,1504 1563.1,1504.2 1558.3,1509.5 1555.8,1510.4 1552.7,1512.9 1548.5,1514.3 1544.8,1515.5 1543.2,1516.6 1540.6,1519 1535.7,1520.4 1534.7,1523.3 1537.1,1530.3 1535.7,1532.9 1529.3,1535.4 1525.7,1535.4 1523,1538.2 1518.5,1540 1515.7,1540.5 1510.7,1545.5 1507.6,1549.5 1505.7,1553 1500,1554.4 1497.2,1556.9 1493.2,1558 1490.3,1559.9 1484.4,1563 1482.7,1568.2 1483.1,1573 1479.6,1575.2 1475.6,1580.5 1471.9,1583.5 1468.1,1586.8 1473.1,1590.6 1475.7,1590.8 1480.6,1589.3 1480.2,1593.1 1480.2,1597.3 1478.1,1600.6 1474.4,1601.1 1470.6,1603.1 1466.5,1603.3 1463.1,1604.3 1460.3,1607.7 1455.6,1610.6 1451.3,1609.1 1445.6,1610.6 1443.2,1613.3 1438,1618.1 1440.8,1619.3 1444.1,1624.6 1448,1627.5 1450.6,1628.1 1445.9,1631.2 1444,1632.9 1440.5,1635.7 1435,1635.4 1432.3,1635.8 1428.6,1637.1 1422.9,1637.4 1420.5,1639.4 1415.1,1637 1413.7,1636.5 1410.2,1632.6 1405.5,1630.6 1401,1629.2 1396.3,1629.2 1393.5,1627.6 1388.5,1625.8 1385.4,1624.4 1380.4,1619.4 1378.4,1621.8 1378.4,1626.1 1375.4,1629.4 1372.8,1628.4 1367.9,1625.6 1365.4,1621.4 1365.4,1618.1 1361.1,1615.3 1358.4,1613 1355.4,1613.1 1352.8,1612.2 1348.5,1610.3 1345.3,1608.1 1341.4,1606.7 1337.8,1605.6 1332.9,1605.2 1330.3,1604.3 1326,1604.7 1320.6,1602.5 1318,1604.1 1312.8,1603.1 1307.8,1600.6 1309.7,1598.7 1311.5,1593.1 1310.3,1588.1 1307.7,1592.3 1304.4,1593.8 1300.3,1598.1 1296.9,1598.6 1292.6,1595.3 1287.7,1593.5 1286.1,1593.1 1280.2,1593.1 1277.9,1591.6 1275.4,1586.9 1272.7,1583 1268.1,1581.5 1265.2,1578 1261.5,1576 1257.2,1571.1 1255.2,1568 1252.1,1567.8 1247.6,1566.8 1248.4,1571.7 1246.4,1576.8 1244.6,1571.6 1242.6,1568 1244.1,1573.8 1246.9,1574.8 1248.9,1580.5 1243.3,1581.3 1240.1,1583 1235.4,1582.6 1233.3,1582.3 1230.2,1583.2 1225.1,1581.8 1220.3,1580.1 1218,1578.7 1212.7,1578.1 1210.1,1578 1209.6,1573.6 1207.6,1570.5 1203.2,1568.6 1199.8,1567.8 1195,1564.3 1189.8,1563.3 1187.8,1563.5 1183.8,1563.8 1180,1563 1175.8,1562.8 1171.1,1561.3 1165.8,1561.5 1167.1,1555.2 1163.8,1557.1 1160.8,1562.8 1157.2,1561.6 1153.1,1559.2 1150.8,1557.7 1150.1,1552.3 1148.3,1550.2 1146.5,1552.1 1143,1556.9 1140.8,1560.3 1137.7,1560.7 1132,1560.6 1129.1,1562.8 1125.7,1562.4 1120.4,1561.4 1118.2,1562.8 1115.6,1563.8 1112.1,1565 1108.2,1569.2 1105.7,1570.3 1103.2,1574 1099.3,1575.6 1093.2,1576.5 1087.8,1579.5 1087.1,1582.5 1083.1,1585.3 1081.8,1587.8 1077.7,1592.8 1075.6,1594.1 1071.9,1599.1 1068,1598.8 1063.1,1595.3 1060.7,1597.5 1053.9,1599.8 1050.6,1601.6 1046.5,1603.2 1045,1604.3 1040.4,1609.5 1038,1610.4 1036.2,1614 1032,1616.5 1028,1620.4 1026.6,1622.5 1023.8,1628.7 1021.8,1630.4 1020.2,1635.8 1018,1637.9 1017.2,1645.1 1015.5,1647.9 1014.6,1652.8 1016,1655.2 1013.8,1659.9 1014.2,1665.5 1015.4,1670.7 1013.4,1672.4 1013.5,1678.2 1015.4,1680.8 1015.7,1687.9 1015.5,1690.5 1016,1693.5 1016.2,1697.7 1015.2,1704.5 1016,1706.3 1013,1713 1014.2,1715.6 1013.8,1719.3 1017.6,1725.3 1018,1728.1 1021.9,1730 1023.6,1730.3 1028,1733.1 1029.9,1739 1030.5,1743.1 1025,1743.6 1020.5,1745.6 1016.6,1743.5 1012.8,1741.3 1010.6,1738.7 1005.5,1736.9 1000.4,1737.5 998.7,1737 992.9,1737.6 990.4,1739.4 988.3,1742.2 985.5,1744.2 980.4,1746.9 976.4,1745.8 973.2,1746.5 967.9,1748.1 965.4,1753.2 967.6,1757.8 966.6,1760.7 961.6,1758.7 959.2,1758.5 955.4,1758.2 951.8,1758.3 945.3,1760.7 941.8,1757 937.8,1753.2 932.9,1752.3 929.2,1750.3 925.3,1748.1 921.6,1747.4 916.5,1745.9 912.8,1744.4 907.4,1744.2 904,1745.4 900.2,1748.1 897.7,1748.1 895.6,1751.2 890.2,1755.7 884.3,1757.9 880.2,1759.4 877,1756.2 875.2,1753.2 873.4,1747.6 873.4,1744.9 872.7,1740.6 877.6,1739.9 880.2,1739.4 879.6,1735.4 876.5,1733.1 874.6,1736.6 872.7,1739.4 867.7,1739.5 862.7,1736.9 859.1,1733.9 854.5,1734.3 852.7,1731.9 846.6,1731.3 843.9,1730.6 844.5,1726.6 846.4,1720.6 851.4,1718.1 847.4,1713.9 845.1,1711.8 840.2,1710.8 838.2,1709.4 833.7,1709.6 830.1,1708.1 826.3,1707.6 820.6,1705.7 817.6,1705.6 814.8,1706.3 810.1,1708.1 807.6,1713.1 804.6,1710.2 802.5,1705.6 801.5,1702.3 798.8,1696.8 795.5,1694.9 793.4,1690.5 791.1,1691.2 784.6,1690.4 781.4,1690.4 777.4,1689.5 774.8,1689.3 770.9,1690.5 768.7,1687.5 763.4,1683 760.5,1681 755.2,1680.8 753.5,1680.9 749.3,1678 745.8,1678 742.7,1678.1 738.9,1675.7 733.3,1673 731.5,1670.7 727.1,1669.2 722.9,1668.7 718.3,1666.7 713.6,1667.3 708.3,1668 707.2,1673.6 707,1678 706.3,1680.6 704.5,1685.5 705.3,1691.8 708.3,1695.5 704.1,1695.9 698.4,1692.8 695.7,1693 693,1694.1 687.6,1692.3 683.2,1691.8 677,1689.8 673.2,1690.5 668.5,1691 663.2,1690.5 658.2,1695.5 655.1,1690.5 653.2,1688 649.5,1689.3 644.5,1690.1 640.6,1689.3 634.8,1691.1 631.6,1689.8 628.5,1691.4 623.1,1690.5 616.7,1689.8 613.1,1689.3 610.1,1687.1 605.6,1684.3 605,1679.5 602.7,1677.6 600.5,1673 593.8,1671.9 590.5,1670.5 585.4,1668.2 581.8,1664.2 575.5,1665.5 571,1666.8 565.5,1669.2 559,1666.8 555.4,1666.7 550.9,1669.7 549.2,1673 547.1,1670.1 545.4,1663 542.5,1661.4 537.3,1659 535.4,1656.7 531.6,1653.3 530.4,1650.4 530.3,1646.5 526.6,1640.4 523.2,1639.2 520.1,1641.3 515.4,1640.4 511.1,1641.4 505.8,1639.8 502.8,1639.2 500.6,1637 494.7,1635.5 490.3,1632.9 486,1632.3 480.3,1629.1 475.3,1625.4 470.7,1624.6 468.8,1623.7 464,1622.5 460.3,1620.4 458.4,1616.8 455.2,1611.6 453.4,1614.3 451.3,1619.3 450.2,1622.9 445.3,1621.5 442.4,1619.4 438.7,1616.8 435.2,1615.4 437.2,1613.1 443.4,1608.3 445.2,1605.3 445.8,1601.3 446,1596.5 447.5,1595 447.7,1590.3 445,1585.1 441.3,1582.6 440.2,1580.3 437.4,1579.9 433.3,1578.5 428.8,1577.7 425.2,1577.8 421.9,1580.7 417.7,1581.5 415.3,1578 410.6,1575 408.2,1573.2 405.1,1570.3 400.5,1566.1 397.6,1564 422.7,1542.7 424,1540.1 429.2,1537.3 431.9,1532.6 435.3,1531.8 439.1,1528.4 440.2,1525.2 447.7,1497.6 455.2,1465.1 M477.3,1353 479.7,1349.7 481.5,1344.3 486.2,1341.8 490.3,1342.5 493.9,1343.5 498.9,1343.1 502.8,1343.5 504.1,1338 501,1334.5 500.3,1331.5 497.8,1328 492.9,1325.2 489.8,1321 487.5,1325.1 486.1,1327.6 482.8,1330.5 481.9,1334.4 479,1338 M497.1,1196.6 499,1194.5 501,1189.2 504.6,1186.7 507.7,1182.4 510.8,1184.2 511.4,1189.2 508.1,1190.7 512,1193.7 514.5,1197.9 517.8,1199.7 522,1205.3 526.9,1210.4 529.4,1212.8 532.4,1217.3 536.9,1220.2 538.4,1222.5 540.6,1227.7 542.3,1231.2 543.1,1236.4 542.2,1239.4 543,1244.6 545.1,1247.7 545.6,1252.5 545.2,1256.3 547.9,1261.7 549.3,1266.2 551.7,1268.7 552.6,1275.2 555.5,1277.4 560,1282 563,1283.6 560.4,1279.1 561.5,1276 559.3,1271.2 557.8,1266.4 556.6,1263.7 555.2,1260.6 554.6,1257.4 554.3,1253.8 553.1,1248.6 553.8,1245.6 553,1241.8 551.8,1237.6 552,1234.1 550.2,1229 549.3,1225.2 548.6,1222.5 548.1,1216.5 545.8,1211.9 545.6,1207.8 541.8,1203 540.6,1199.1 536.4,1194.9 534.4,1192.9 530.6,1189.1 527,1188 524.8,1186.7 520.7,1183 517,1178 514.5,1174.3 510.1,1171.9 507.1,1170.6 505.5,1167.7 500.9,1165.6 495.9,1161.2 493.4,1163.4 489.7,1162.1 489.7,1156.9 488.3,1150.1 489.1,1147 490.9,1143.2 497.1,1142.6 502.1,1144.5 507.1,1149.4 509.6,1153 513.3,1155.7 518.3,1159.6 522.6,1159.4 519.5,1157.1 514.5,1153.2 512.8,1150.5 508.3,1147 505.6,1143.3 503.4,1140.7 500.9,1137 499,1133.3 501.6,1132.7 505.8,1130.8 509.6,1125.8 511.4,1119.6 509.6,1114.7 514.5,1113.7 519.5,1114.9 521.9,1118.5 522,1122.1 524.5,1123.4 522.2,1118.4 520.7,1112.2 515.8,1112.2 512,1109.7 514,1107.4 514.5,1102.2 513.3,1096 510.8,1094.7 509.6,1089.8 508.6,1086.5 505.8,1083.6 502.1,1079.9 496.9,1079.1 494.7,1078.6 498.4,1074.9 502.1,1069.9 504.4,1067.6 507.1,1063.7 509.6,1060 508.8,1057.6 505.3,1052.9 500.3,1055.4 495.3,1060.5 490.3,1055.4 486,1052 484.2,1050.7 480.3,1045.4 476,1044.8 470.3,1044.2 468.7,1041 462.8,1037.9 457.7,1032.9 454.6,1030.9 450.2,1030.4 447.6,1027.3 444.3,1025.3 440.2,1022.9 435.8,1021.6 432.8,1018.2 427.7,1016.6 426.1,1013.3 425,1009.9 425.2,1005.3 423.3,1001.6 421.8,998.7 418.7,996.8 417.3,992.4 415.2,987.8 413.7,984.9 411.7,980.1 409.2,976.4 407.3,974 405.1,970.3 403,968.6 400.8,963.5 395.8,960.5 395.1,957.7 393.5,953.9 392.1,952.1 390.1,947.7 392.4,945.4 392.6,940.2 397,936.4 398.6,934.3 402.6,932.7 404.6,930.2 408.5,927.5 409,922.5 412.7,920.2 408.6,917.2 407.7,911.7 405.1,910.1 400.8,909.1 398.6,906.9 395.9,905.3 392.6,902.6 386.8,902.3 382.6,900.1 386.3,894.7 389.5,891.2 392.6,890.1 391.4,887.5 393.4,882.7 395.2,879.7 394.7,876.4 392.2,872.7 390.3,875.2 386.4,876.7 384.1,880.2 381.8,880.5 377.8,882.7 374.4,880 370.3,878.9 369.2,876.1 364,876.4 360,877.8 357.7,875.2 355.6,872.1 351.5,872.7 349,870.1 352.7,868.9 356.5,867.6 352.7,865.1 350.2,860.1 347.7,855.7 352.7,852.6 357,852.3 360.3,850.1 364,848.9 364,843.8 360.3,843.7 356.5,842.6 357.7,838.8 360.3,841.3 364,837.6 362.8,835.1 361.5,833.4 357.7,830.7 352.7,828.8 350.2,823.8 346.5,821.3 343.2,824.4 340.2,825.1 338.6,828.4 335.2,830.1 330.2,831.3 327.2,833.5 322.7,833.8 317.7,831.3 315.2,826.3 318.7,823.8 320.2,821.3 322.8,824 326.4,822.5 331.4,823.8 332.6,820.6 336.5,818.8 334.6,816.1 337.1,812.5 333.9,808.8 330.6,807.7 327.7,807.5 325.1,808.3 321.4,806.3 320.9,809.5 316.4,811.3 312.7,812.5 310.2,811.5 306.4,810 306,805.8 302.6,803.8 300.1,807.5 296.4,811.3 293.9,812.5 292.8,815.9 290.1,818.8 288.9,823.9 285.1,825.1 285.1,828.8 287.6,832.6 288.3,835.3 291.4,837.6 288.2,836.3 285.1,835.1 282.6,830.7 279.8,827.6 277.2,824.7 277.6,821.3 279.4,817.2 277.9,812.8 280.5,810.5 278.2,808.3 275.6,805.6 273,803 269.7,803.2 266.9,799.6 265.7,797.7 261.3,796 257.6,795.3 255.4,795.5 251.2,795.9 250.9,792 245.5,791.7 242.2,792.2 240.4,790.5 239.8,786.9 235.3,787.2 235.3,782.1 231.3,781.2 231.7,777.2 225,776.1 225.4,773 222.6,772.2 222.1,768.1 217.9,768 215.4,771.7 210.8,773.2 209.3,772.2 205.3,770.5 204.8,767.1 202,764.5 197.8,763 195.5,761 194.1,756.4 191.7,753.8 190.3,750.4 185.3,752.9 181.5,753.9 178.7,750.8 177.3,751.4 174,754.1 170.3,752.9 171.6,748.5 176.2,748.2 175.6,746.3 177.8,742.9 176.3,740.6 174,735.4 171.4,737.4 172.8,743.1 172.3,746.2 170.3,747.9 168.1,751.4 165.8,755 162.8,755.4 162.5,758.5 160.4,762.2 160.3,765.5 157.8,766.7 154.6,765.1 150.2,763.7 146.7,767.1 142.7,765.5 139,763 144,760.5 141.7,758.1 143.2,754.2 141.7,751.5 141.6,746.9 140.9,743.7 140.8,742.1 140.2,737.9 136.1,736.9 135.4,734.6 132.1,732 130.1,731.4 128.3,730.2 125.4,727 122.7,725.4 120,724.4 116.5,723.1 112.6,723.1 109.9,722.4 107.3,721.1 106.3,720.2 102.2,717.2 100.1,716.6 104.6,717.5 105.8,718 108.7,714.6 113.1,715.7 117.2,715 120.3,715.7 122.7,712.9 150.2,712.9 153.9,710.4 153.3,704 156.5,702.8 153.4,701.6 154,695.9 150.2,692.8 148.6,691.5 143.5,692.3 140.8,692.4 139.8,687.6 135.3,687.5 132.7,687.8 129.3,690.4 128,691.2 125.2,695.3 122,692.8 123.8,688.6 120.5,686.6 117.7,682.8 120.9,684.3 124.6,682.5 127.8,680.5 131.6,683.4 133,680.9 137.9,680 140.2,681.5 143.2,681 147.4,681.2 149.8,680.1 154.4,681.9 155.7,679.6 160.3,680.3 156.8,677.3 154,678.3 151,675.7 147.6,678.6 143.1,676.8 140.2,675.3 136.1,674.8 134.7,673 131.4,672 128.7,671.4 125.7,671 122.7,670.3 120.9,668.1 117.7,667.4 115.4,666.5 111.1,667.1 109,665.4 105.1,665.3 107.1,663.7 111.8,664.1 113.4,661 118.9,660.8 121.4,661.5 124.7,659.9 127.7,660.3 124,659.2 121.8,663.3 119.4,661.2 115.5,660.1 111.8,662.9 108.8,661.8 105.5,660.8 102.6,662.8 100.3,663.6 96,662.5 92.5,662.6 89.9,665.2 85.1,662.8 82.5,662.1 81.3,657.7 84.6,656 84.1,651.6 86.5,651.4 88.9,648.9 90.1,645.2 93.4,645.5 93.9,640.7 99.4,639.8 99.6,637.7 102.8,634.2 105.1,632.7 107.2,628.6 111.9,629.8 113.4,628 116,627.7 116.4,623.5 119.9,620.3 122.7,620.2 125.8,616.5 130.2,615.9 132.7,615.2 136.6,616.2 138.3,616.5 142.3,613.4 146.5,614 150.1,615.9 152.7,613.9 156.9,615.7 159.7,612.7 164.2,614.3 166.3,612.3 170.3,612.7 172.7,613.2 175.3,614.5 179.6,613.4 182.8,612.7 184.6,609.7 188.7,608.6 190.3,607.6 194.3,606.2 195.3,602.6 197.3,607.1 200.3,607.6 202.2,611.7 199.2,615.7 199.7,617.4 202.6,621.3 202.8,624.9 201.6,627.7 206.3,628.1 208.5,627 212.9,627.7 215.4,624.6 213.3,621.5 214.2,618.3 214.9,616.2 215.4,612.7 220.1,614.4 221.6,613.1 225.4,611.4 229.2,612.3 229.8,616.4 234.1,615.9 235.1,618.4 237.9,620.2 241.2,619.8 245.4,619.1 247.9,617.7 249.8,614.9 247.1,609.4 247.1,606.8 247.8,604.7 245.4,600.1 249.8,599 251.8,596.6 255.4,593.9 257.7,594.7 261.5,594.7 265.5,595.1 269.8,596.4 272.4,593.6 274.8,592.7 278,592.6 282.1,590.5 285.5,593 288,591.4 290.8,595.3 291.6,598 289.7,600.5 290.5,605.1 286.6,607.9 284.3,608.9 286.6,607.4 289.5,605.8 292,603.8 293,600.1 295.1,595.5 296.2,594.5 300.6,595 303.9,590.7 305.6,588.9 309.3,586.3 311.8,589.4 315.6,592.6 315.6,596.9 317.2,599.3 319.1,601.5 319.3,605.1 318.8,610.6 323.8,610.2 323.1,615.2 326.5,617.5 327.5,618.7 327.2,622.8 330.6,625.2 332.8,628.9 337.3,630.7 340.6,630.2 344.7,629.4 346.2,630.6 350.8,629.5 352.6,632.3 355.3,634 358.4,632.6 363.6,632.9 365.7,633.9 368,633.8 372.4,632.3 376.3,632.3 379.4,631.1 382.6,633.6 383.8,632.2 388.2,632.7 390.7,630.2 394.6,631.8 396.5,632.8 398.2,637.7 398.6,642.3 399.5,645.4 402.2,648.1 403.3,650.2 406.6,648.3 407.1,645.9 410.8,642.7 413,640.1 416.4,641.1 420.8,640.2 423.3,643.6 427.1,642.7 426.2,647.2 428.9,650.4 425.5,652.3 429.7,656.8 426.3,660.4 428.3,662.8 430.7,659.7 433.3,657.7 431.1,655.2 431.8,650.1 429.7,646.3 428.9,642.7 430.8,640.2 433,636.2 437.8,635.4 438.6,632.2 440.8,630.2 445.3,627.7 448.4,627.7 449.4,632.2 446.9,632.8 444.5,636.2 445.8,640.2 449,639.8 451.7,641.3 453.4,645.2 457.6,646.7 460.5,646.6 463.2,647.8 465.9,646.5 468.3,645.7 471.9,644.3 475.4,644.3 478,644.6 480.9,645.2 484.9,644.8 487.1,642.6 490.9,644.6 495.2,643.1 500.2,644.7 502.7,644.3 498,641.8 495,639.1 492.7,638.1 489.8,636 488.8,634.4 485.2,633.1 483.5,629.5 481.5,626 480.2,623 481.5,619 480.8,617.6 479.6,613.5 480.5,611.8 477.7,608 477.2,603.5 478.7,601.4 480.3,599.4 480.4,595.8 481.4,593 484,590.1 483.3,587.6 483.2,583.8 483.7,580.2 482.7,578 486.2,574.4 488.9,575.4 486.6,573.9 482.7,572.9 481.9,570.8 479.3,566.2 480.5,562.3 478.9,560.4 477.5,557.9 479,553.5 480.8,550.7 480.2,546.6 478.1,542.2 475.2,539.1 473,534.3 471.3,531 470.9,528.6 470.1,522.8 468,519.8 466.6,516.9 464.7,512.4 462,512.6 460.1,507.8 460.3,504.1 456.8,502.1 457.3,498 454.6,493.4 453.9,490.3 452.1,486.2 451.4,482.8 456.1,480.7 457.6,477.7 456.3,473.7 453.9,470.5 453.4,466.8 451.3,463 450.1,460.2 447.1,455.4 446.3,451.4 448.5,453.1 455.4,451.7 457.6,452.7 462.5,453.4 463.3,455.4 466.6,457 470.7,459.4 475.2,460.2 480.8,461.2 483.2,458.7 488.5,458.5 490.4,458.3 497.2,458 500.2,459 503.7,458.4 508.4,459.3 513.7,459.5 516.2,459.5 520.3,460.2 520.7,463.3 525,467.3 525.3,470.2 523.3,474.6 520.9,475.7 520.6,478.9 517.7,482.8 517.9,487.9 520.3,492.8 522.5,495 526.7,500 527.8,502.8 529,507.8 531.4,512.7 531.5,517.8 536.5,520.3 540.3,515.3 544.2,515 547.5,514.1 552.4,512.4 555.3,512.8 558.3,515.6 563.4,516 565.3,517.8 568.2,518.2 572.8,521.9 575.4,522.8 577.9,523.4 581.6,525.3 588.2,524.5 590.4,525.3 595.6,526.6 600.5,524.8 601.8,525.8 607.9,526.6 612.4,528.5 615.1,526.8 617.7,530 622.9,529.2 625.5,530.4 631.1,532 634.3,534.3 636.3,534.4 641.6,536 645.5,536.6 649.4,535.6 652,534.4 656.6,535.1 660.5,532.9 664.5,529 667.7,528.4 670.6,526.6 672.7,523.9 677.8,518.7 680.6,516.6 687,513.4 690.6,512.8 695.9,512 698.5,511.5 701.6,511.2 706.9,512.1 703.6,511.6 700.2,511.2 696.1,511.3 693.3,509.2 688.1,509.8 681.6,508 678.1,506.6 676.8,503.4 674.3,499 677,496.1 678.1,489 678.7,485.8 683.1,480.3 682.1,474.7 681.8,471.5 683.8,468.9 687.3,468 690.6,464 693.9,460.7 697.1,459.3 700.9,457.6 704.9,458 708.1,455.2 733.2,441.4 736.9,439.6 739.1,440.3 743.1,437.7 746.6,437.6 750.7,436.4 754,436.3 758.5,436.2 761.3,433.6 765.7,432.5 770.8,432.7 774.8,432.9 780.2,430.1 784,430.8 786.1,428 790.8,427.6 793.6,426.2 796.8,424.1 801.7,421.3 804.9,421 808.4,418.9 811.8,416.4 813.8,415.8 818.3,413.2 820.9,410.1 825.2,407.4 827.5,407.7 830.9,405.1 831.2,401 833.9,398 834.9,393.3 837.6,390.4 840,385.9 842.3,384.3 845.1,380.4 849.6,383.1 855.2,384.1 852.2,382.5 849.3,379.3 847.6,375.4 847.1,368.3 845.1,365.3 846,361.7 846.4,355.3 849.9,355 855.2,356.6 850.7,353.4 847.6,350.3 846.4,346.2 847.9,341.8 849.3,338.7 848.9,335 848.9,330.3 849.1,325.4 848.2,321.4 849.7,318.2 850.1,312.7 849.8,307.1 850.2,305 850.4,299.5 851.4,295.2 850.1,267.6 852.9,265.2 855.8,262.7 860.2,260.1 864.3,256.1 867.7,252.6 871.8,250.1 877.5,249.1 880.2,248.9 882.7,246.3 885.7,246.9 889.9,245.1 894.8,242.1 897.7,242.6 902.7,242.2 906.8,240 909.6,238.8 912.8,237.6 916.5,241.3 920.3,236.3 926,235.6 928.6,235.6 933.4,232.6 937.8,232.6 941.4,232.1 947.2,231.6 950.1,230.4 953,229.8 957.9,228.1 957.9,228.1"/>
<path d="M1830.6,1607 1833.7,1608.7 1838.1,1613.6 1839.1,1616.2 1841.1,1620.5 1839.9,1626.1 1841.8,1628.6 1841.8,1632.1 1843.4,1636.3 1845.3,1639.7 1845.6,1645.5 1853.1,1673.7 1854.4,1678.7 1852.8,1682.2 1853.1,1684.2 1855,1689.1 1854.1,1693.7 1855,1696.3 1854.1,1699.1 1855.4,1705 1855.9,1707.5 1856.2,1711.2 1855.4,1717.9 1856.9,1720.7 1857.9,1723.9 1859.7,1728.2 1859.5,1732.5 1860.7,1737.1 1862.5,1739.5 1862.1,1743.9 1861.6,1748.9 1862.1,1753.1 1864.1,1756.8 1864,1762 1862,1764.7 1860.6,1771.4 1859.7,1775.5 1857.4,1778.1 1855,1780.8 1853.4,1783.6 1850.4,1785.5 1849.4,1790.2 1846.5,1795.8 1846.9,1798.7 1846.5,1802.7 1847.1,1807.1 1848,1811.6 1848.5,1814.7 1848.4,1818.4 1846.9,1820.8 1847.5,1825.9 1849.5,1828.5 1848.7,1834 1850.3,1837.2 1849.8,1840.7 1847.5,1844.7 1846.5,1848.8 1843.7,1852.2 1838.1,1856 1841.8,1861.6 1839.7,1866.8 1836.2,1869.1 1836.3,1874.5 1838.1,1876.6 1833.6,1881.3 1832.4,1884.1 1833.1,1887.6 1830.6,1891.7 1832.9,1897.1 1836.2,1899.2 1835.3,1904.8 1830.6,1899.9 1828.7,1897.3 1823,1899.2 1817.3,1896.5 1813.7,1895.4 1812.7,1892.7 1812.7,1887.9 1808,1884.1 1805.3,1883.8 1799,1883 1796.7,1882.3 1793.7,1881.6 1787.3,1878.5 1783.9,1878.3 1779.8,1874.7 1776.1,1872.9 1773.4,1869 1768.6,1865.4 1768,1862.8 1768.6,1857.8 1772.3,1856.2 1774.2,1852.2 1776.5,1850.4 1780.8,1848.2 1786.4,1847.5 1782.8,1846 1776.1,1844.7 1772.3,1844 1768.2,1840.8 1766.7,1839 1762.1,1841.1 1757.3,1840.9 1751.6,1838.1 1754.9,1835.6 1757.3,1831.5 1761,1825.9 1762,1822 1759.4,1818.8 1758.3,1815.1 1759.2,1810.9 1757.8,1806 1759.2,1803.2 1756.5,1800.5 1757.3,1795.8 1756,1792.6 1755,1785.9 1755.4,1782.7 1753,1781.4 1751.3,1775.5 1747.9,1773.3 1744.9,1770.7 1740.3,1769.5 1736.6,1769.5 1734.5,1765.6 1731.9,1763.9 1731.6,1760.7 1731,1754.5 1736.8,1751.2 1740.4,1750.7 1747.1,1749.3 1749.8,1747 1746,1741.3 1741.6,1739.7 1738.5,1737.6 1736,1734.3 1732.9,1732.9 1729.1,1731 1732.7,1728.2 1734.7,1724.4 1738.8,1721.5 1741.3,1718.8 1741.3,1712.4 1742.3,1709.4 1743.2,1703.8 1747.9,1700 1749.3,1697.5 1747.9,1692.5 1753,1693.9 1755.4,1692.5 1759.2,1686.9 1762.4,1686.2 1768.6,1683.1 1771.8,1682.8 1776.1,1679.3 1781.7,1679.7 1785.5,1677.5 1791.1,1675.6 1790.5,1672.5 1793,1668.1 1796.2,1665.4 1798.6,1662.4 1803.8,1662.3 1804.5,1660.6 1809.9,1660.6 1812.5,1659.6 1815.2,1656.2 1819.1,1651.5 1821.3,1649.1 1823,1645.5 1823.9,1642.1 1823,1637.3 1822.1,1632.4 1824.9,1627 1824.9,1623 1824.5,1619.2 1823,1617 1824,1611.7 1827.4,1609.6Z"/>
<path stroke-width="2.5" d="M264.4,847.6 268.8,850.1 273.8,853.9 277.6,857.6 282.6,861.4 288.2,863.3 288.9,865.1 283.8,868.9 277.6,865.1 272.6,864.5 266.9,864.5 264.4,860.1 263.8,853.9Z"/>
<path stroke-width="2.5" d="M61.3,640.2 67.6,636.5 73.8,640.2 67.6,645.2Z"/>
<path stroke-width="2.5" d="M471.1,1096 477.3,1099.8 483.5,1106 490.9,1108.4 492.2,1114.7 494.7,1122.1 497.1,1129.6 497.4,1134.5 494.7,1139.5 490.9,1140.7 489.7,1134.5 487.2,1128.3 481,1122.1 474.8,1115.9 472.3,1109.7 472,1102.2Z"/>
<path stroke-width="2.5" d="M454.9,1061.2 462.4,1062.5 471.1,1067.5 479.8,1069.9 486,1073.7 488.4,1078.6 483.5,1079.9 477.3,1076.1 468.6,1071.2 459.9,1069.9 456.1,1066.2Z"/>
<path stroke-width="2.5" d="M358.4,970.4 365.3,969.1 370.3,972.9 373.4,977.2 370.3,979.1 364,976.6 359,973.5Z"/>
<path stroke-width="2.5" d="M373.4,919 379,918.4 384.1,921.5 384.1,926.5 381.5,930.3 385.9,932.8 390.3,936.5 391.8,942.2 387.8,937.8 382.8,931.5 377.8,930.3 375.3,925.3Z"/>
<path stroke-width="2.5" d="M292.6,844.5 297.6,846.3 302.6,848.9 303.9,852.6 300.1,853.2 296.4,849.5Z"/>
<path stroke-width="2.5" d="M307.6,857.6 311.4,858.2 312.7,860.8 308.9,861.1Z"/>
<path stroke-width="2.5" d="M305.1,815 310.1,813.8 311.4,817.5 307.6,818.8Z"/>
<path stroke-width="2.5" d="M315.2,813.8 320.2,812.5 322.7,816.3 318.9,818.8 315.8,817.5Z"/>
<path stroke-width="2.5" d="M325.2,811.3 330.2,811.9 332.1,816.3 327.7,818.8 325.2,815.7Z"/>
<path stroke-width="2.5" d="M307.6,821.3 312.7,820.7 313.9,824.4 309.5,825.1Z"/>
<path stroke-width="2.5" d="M339,825.7 344,824.4 346.5,826.9 342.7,829.4Z"/>
<circle cx="340.8" cy="849.2" r="1.2" fill="#000" stroke="none"/>
<circle cx="367.5" cy="916.2" r="1.2" fill="#000" stroke="none"/>
<circle cx="366.5" cy="880.2" r="1.2" fill="#000" stroke="none"/>
<circle cx="371.5" cy="883.3" r="1.2" fill="#000" stroke="none"/>
<circle cx="314.5" cy="862.3" r="1.2" fill="#000" stroke="none"/>
<circle cx="298.9" cy="855.7" r="1.2" fill="#000" stroke="none"/>
</g>
<g fill="none" stroke="#000" stroke-width="3" stroke-linejoin="round" stroke-linecap="round">
<path d="M480.2,645.6 482.1,650.1 482.2,652.8 482.7,658.1 484.4,661.4 486,664.6 487.7,668.1 491.2,670.1 495.2,674.4 499.7,673.3 505.2,670.6 510.2,666.4 512.7,663.1 518.2,665.3 520.4,663.8 525.3,665.6 529.6,668.3 534,669.4"/>
<path d="M533.8,668.9 535.3,671.7 535,677.6 534.6,680.8 536,683.9 535.1,687.7 533.2,691.3 531.9,696.1 533.3,697.5 531.3,701.4 532.2,707.5 530.1,710.2 530,715.5 530.1,717.5 533.3,720.8 531.4,725.3 533.8,730.3 535.1,732.6 536,736.7 535.6,741.2 536.5,747.6 536.3,750.3 536.5,755.2 535.1,757.8 530.4,758.9 525.7,761.3 522.5,762.8 520.8,765.1 519.6,768.7 516.4,773.6 515,775.4 514.1,778.2 511.3,784.8 510,787.9 508.7,792.3 507.5,795.4 504.7,795.8 500,792.9 497.3,790.9 490.9,788 485.9,784.3 460.9,800.5 457.3,801.5 454.5,802.2 447.6,803.6 443.3,802.1 440.8,803 435.3,803.7 432.3,803 428.8,804.5 425.3,805.8 420.8,805.6 417.7,806.4 412.8,808.4 408.4,811.4 405.8,813.1 404.9,815.7 405.5,819.2 405.1,825.9 403.3,828.1 397.9,831.3 395.7,833.1 392.5,832.3 386.9,831.7 385.7,833.2 380.7,833.1 380.3,836 378.2,840.6 375.8,841.4 369.2,841.5 366.3,843.5 363.2,843.1"/>
<path d="M533.8,668.9 536.8,667.1 543.6,667.6 547.6,667.6 550.9,667.8 557.1,670.6 560.1,672.7 564.8,675.4 565.5,678 570.1,681.4 574.2,680.3 580.1,678.2 582.7,677.7 584.8,675.5 591.2,675.7 595.2,672.7 598.4,671.5 604,671.5 605.5,670.9 610.2,671.4 615.4,672.9 620.3,673.9 624.5,671.1 624.4,668.4 627.8,665.1 632.7,667.8 635.3,667.6 639.4,671.3 640.3,675.2 644.2,677.6 649,677.2 650.4,679.3 655.3,680.2 658.4,680.8 662.9,679.3 667.1,680.4 672.4,681.7 675.4,681.4 680.5,683.1 683.7,683.4 685.7,681.4 690.5,682.6 692.9,682.9 697.9,682.7 700.1,687.1 699.8,690.3 702,692.6 700.8,697.5 702.9,700.2 703.6,703.6 708.6,707.6 710.4,710.2 714.4,713.1 716.7,715.2 718.7,718 723,722.8 729.6,719.9 733,720.3 735.8,722.1 738.8,727.2 740.5,730.3 743.8,732.5 748,732.8"/>
<path d="M748,732.8 749.4,728 750.8,725.7 750.5,720.3 747,716.1 746.8,712.7 749.2,709 753,705.2 755.9,704.8 760.2,703 763,700.2 764.9,695.3 766.8,695.1 770.9,690.7 771.8,687.7 771.5,683.3 771.7,681.3 770.3,675.7 768.1,672.7 764.7,669.5 762.3,665.9 760.5,662.6 759.4,658.1 756.2,655.1 755.5,650.1 758,645.3 760.5,642.6 765.1,642.6 766.6,641 770.6,640.4 774.1,640.3 778.1,637.6 780.9,637.7 785,634.8 788.3,632.3 791.9,630.1 796.2,630.7 800.6,632.6 803.9,632.9 808.3,630.5 810.6,629.5 814.7,629.6 818.2,628.8 820.4,623 823.2,620 824.4,617.9 825.9,614.6 827.8,611.3 830.7,607.5 835.7,603.8"/>
<path d="M860.1,557.6 858.8,562.3 856.3,565.1 855.4,569.1 852.6,575.1 848.9,577 845.1,578.9 840.2,579.5 835,580.1 830,585.1 831.7,589 832.5,595.2 833,598.6 835,602.7"/>
<path d="M830.1,405.4 833.7,409.4 833.7,411.6 837,415.9 840.1,418 845.4,421.3 846.4,423.2 849.9,427.4 852.7,430.5 857.3,433.5 858.7,437.9 862.7,440.5 862.9,444.8 863.4,447.3 865.9,451.6 866.4,455.5 870.2,460.5 867.1,465.9 865,465.9 861.4,470.6 862.3,474.6 864.5,477.5 865.2,483.1 865.5,486 865.6,491.9 867.3,497.5 866.4,500.6 868.9,505.6 869,508.9 865.3,511.9 864.4,517.2 862.7,520.7 864.7,525.3 866.3,530 866.9,533.7 869.1,538.3 868.7,539.8 868.9,545.1 864.3,547.7 861.3,548.8 860.3,553 860.1,557.6"/>
<path d="M860.1,557.6 862.8,559.1 867.8,559.9 870.1,562.6 873.6,562.4 879,564.1 882.6,565.1 887.1,565.3 893.1,563.5 895.2,561.3 897.5,560.1 902.7,560.1 908.4,561.3 912.3,564.3 915.2,565.1 920,566 922.1,564.5 927.7,563.8 933.6,565.1 936.8,568.9 940.3,570.1 944.5,571 948.9,572 951.7,570.8 955.3,572.6 959.9,575.3 960.6,578 965.3,580.1 968.3,578.8 973.6,579.5 977.3,579.8 980.3,580.1 984.2,579.8 988.4,579.9 992.7,581.2 995.4,581.4 999.9,581.9 1004.9,578.2 1007.9,578.9 1011.8,578.5 1015.7,575 1017.9,573.9 1021.6,574.2 1026.7,576.4 1027.1,580.8 1028,585 1029.2,587.6 1031.9,590.8 1035,593 1038,597.7 1040.7,600.2 1042.7,604.2 1045.5,606.4 1048.9,609.3 1053,612.7 1056.1,616.4 1060.5,620.2"/>
<path d="M1148.3,425.5 1148.6,430 1148.2,435.3 1149.5,438 1147.3,441.4 1145.8,445.7 1145.8,450.5 1147.2,453.7 1148.3,460.5 1146.9,462.8 1145,467.4 1141.6,470.2 1140.8,473.1 1139.5,476.1 1134.4,480.4 1130.7,483.1 1125.7,488.1 1126.8,493.6 1127.9,497.2 1130.7,500.6 1129.8,503.7 1130.1,507.4 1128.7,512.2 1128.2,515.7 1127.4,519.1 1127.3,522.5 1125.4,527 1125.7,530.7 1122,526.7 1119.6,526.6 1115.6,522.5 1110.1,523.7 1107.5,522.5 1103.1,523.8 1105.6,530 1100.9,530.9 1095.6,533.8 1092.9,533.6 1087.1,536.1 1085.4,537.7 1081.8,538.8 1083.2,541.8 1083.3,545.6 1083,550.1 1086.6,552.4 1089.3,557.6 1092.3,560.9 1093.1,565.1 1089.9,566.7 1084.8,566.9 1080.5,570.1 1079.2,575.8 1077.5,580.3 1077.1,584.5 1076.8,587.6 1082.5,588.7 1085.6,591.4 1083.8,594.2 1079.4,597.3 1078,600.2 1075.4,603.5 1070.6,608.5 1068,610.2 1065.7,612.7 1063.8,615.6 1060.5,620.2"/>
<path d="M1060.5,620.2 1059.5,624.5 1056.8,626.6 1055.5,630.2 1057.1,636.3 1056.7,640.3 1059.3,643.5 1063,645.3 1062,649.2 1060.5,655.3 1064.9,655.8 1067.3,659 1073,661.5 1069.8,664.4 1066.8,670.3 1065.5,672.5 1059.4,674.6 1058,677.8 1054.9,682.9 1054.2,687.8 1056.3,691.2 1055.6,694.9 1056.7,700.4 1058,704.1"/>
<path d="M1058,704.1 1053.2,704.6 1050.6,703.9 1045.5,702.9 1041.7,703.6 1038.1,704.2 1035,705.3 1030.4,705.4 1027.1,705.4 1022,706.3 1017.6,706.4 1015.4,707.9 1014.6,712.1 1011.6,717.9 1011.6,723.3 1012.9,727.9 1009.2,732.8 1005.4,735.4 1001.4,738.7 1000.4,741.7"/>
<path d="M1000.4,741.7 997.7,743.5 992.9,743 988.1,745.2 985.3,745.5 982.8,740.5 979.1,742.7 977.1,745.3 972.8,745.3 970.3,748 965.5,746.2 964.3,747.9 960.2,746.4 955.3,746.7 951,748.7 946.6,746.7 944,748 946.7,746.2 946.5,741.7 950.3,738 952.8,732.9 952.6,730 948.7,728.6 946.4,725.8 945,722 942.8,717.9 938,716.2 934.8,715 932.7,712.9 930.2,711.6 924.7,712.9 920.2,715.4 915.2,710.4 911,712.8 909.1,713.9 905.2,716.7 902.3,717.7 896.2,718.5 895.2,718.6 890.1,719.2 889.5,714.2 889,710.6 887.8,708.8 889.1,704.7 887.5,699.8 887.6,695.4 884.6,695.2 877.2,692.8 875.1,690.4 857.6,662.8 855.3,658.4 852.9,655.7 852.3,652.9 849.6,650.7 847.6,647.8 842.5,620.2 840.4,617.4 840.5,613.8 839,609.3 836.4,605.2 835,602.7"/>
<path d="M1058,704.1 1062.1,707.6 1065.4,709.6 1068,710.4 1071.6,713.2 1072.7,716.3 1075.5,720.4 1076,723.8 1077.4,727.3 1080.5,730.4 1078.8,735 1078,738 1079.8,739.8 1083.4,741.4 1088.1,743 1090.5,741.7 1095.6,740.5 1096.6,743.8 1099.8,748.6 1100.6,753 1102.7,756.8 1104.6,761.1 1105.9,766.2 1108.1,768 1112.1,771 1115.6,773 1115.3,776.9 1115.6,781.8 1118.7,782.4 1124.4,782.5 1129.5,781.5 1133.2,780.5 1136.1,778.4 1139,778.5 1143.7,778.3 1146,777.3 1150.7,775.5 1155.7,779.3 1159.5,779.7 1164.2,778.2 1167.4,775.1 1170.7,775.5 1175.7,774.8 1177.9,774.4 1183.8,772.1 1185.5,770.5 1190,770.1 1191.9,766.1 1193.8,762.6 1197.1,763.8 1202.3,764 1205.1,763.9 1210,763.4 1215.8,764.6 1218.8,766.4 1219.6,770 1221.3,775.2 1224.2,777.9 1230.1,780.2 1232.9,784 1233.8,787.4 1236.5,788.4 1237.6,792.7 1240.3,798.3 1242.6,800.2 1240.4,803.6 1236.4,807.7 1237.7,811.7 1240,817 1241.4,820.3 1244.5,821 1250.1,819 1253.6,820.3 1258.2,822.5 1260.2,825.3 1266.4,822.8 1269.6,826 1271.2,829 1272.1,831.8 1275.1,835.6 1276.5,837.8 1280.1,838.3 1285.5,836.4 1287.7,835.3 1289,830.5 1289.4,827.9 1292.7,824 1296.8,821.7 1302.8,820.3 1306.7,820.4 1312.8,816.5 1317.9,818.2 1320.3,821.5 1324.4,820.8 1327.8,820.3 1327.5,817.2 1327.5,810.9 1327.7,808.8 1326.5,802.9 1325.3,800.2 1327,795.4 1330.3,792.7 1333.2,789.8 1337.2,785.1 1340.3,782.7 1342.3,778.4 1345,774.5 1346.8,773.4 1350.4,768.9 1355.4,772.7 1357.4,770.2 1361.1,766 1361.4,764.3 1365.4,761.4 1370.6,761.8 1373.1,760.1 1377.9,758.9 1380.9,765.6 1381.7,768.9 1385.5,772.5 1387.9,773.9 1391.9,771.2 1394.8,772 1398,768.9 1403,767 1408,767.6 1413,772.7 1416.5,772.5 1420.4,774.2 1425.5,775.2 1428.6,771 1431.8,770.1 1433.3,771.9 1438.6,774.7 1440.5,777.7 1442.5,779.2 1445.5,781.9 1449.3,784.6 1453.1,786.4 1455.7,790.3 1460.7,792.9 1463.1,795.2 1467.9,797.1 1471.7,798.6 1475.6,800.2 1478.6,803.2 1483.5,803.5 1485.6,805.2 1486,808.7 1486.3,814.8 1486.9,817.7 1484.8,824.5 1483.1,827.8 1487.6,829.3 1493.2,830.3 1495,832.8 1498.6,837.3 1500.3,841.4 1500.7,844.1"/>
<path d="M1000.4,741.7 1005.7,743.8 1010.4,745.5 1011.6,751.4 1012.5,753.8 1015.4,758 1016.7,761.9 1020.1,763.2 1022.9,768 1022.9,771.6 1022.9,778 1019.7,781.3 1015.1,782.9 1012.9,785.6 1013.3,789.1 1010.4,795.6 1009.8,801 1007.9,805.6 1002.9,806.6 999.6,807.7 997.1,809.7 992.9,811.9 993.5,815.2 992.9,820.6 996.9,824.7 1000.4,828.1 1001.1,831.4 1002.4,834.4 1002.6,839.1 1003.9,843.3 1005.4,845.7 1000.4,847.5 997.1,849 990.4,850 994.2,854 994.5,856.9 997.9,860 997.8,863.8 998.2,867.2 1000.4,872.6 997.2,876.6 996.9,878.9 996.1,882 992.9,885.1 996.3,887.3 999.9,890.3 1002.9,895.1 1005.7,898.9 1006.1,902.4 1007.9,907.6 1007.4,911.1 1010,916.4 1010.3,920.5 1011.6,922.7 1012.1,927.6 1014.3,930.7 1013.9,933.3 1013.5,938.6 1015.2,941 1015.4,945.2 1016.4,950.8 1015.4,952.8 1015.9,956.3 1017,961.9 1015.1,967.4 1016.7,970.3 1014.2,976.5 1012.9,980.3"/>
<path d="M1012.9,980.3 1006.5,980.4 1002.9,981.5 998.3,986.6 995.4,987.8 991,990.5 986.6,992.6 982.8,992.8 978.1,992.3 975.3,990.3 970.8,993.9 967.8,998.1 965.3,1000.3 961.5,1000.8 956.5,1005.3 957.3,1012.2 957.8,1015.4 958.9,1019.3 961.5,1022.9 956.6,1025.1 953.6,1026.8 950.3,1026.6 947.1,1025.9 942.6,1027.9 937.7,1027.9 934.7,1029.3 929.4,1030.7 927.7,1032.9 924.9,1038.1 922.7,1040.4 921.5,1045.4"/>
<path d="M654.4,907.6 658,910.2 660.7,913.9 665.5,914.4 670.7,917.7 673.3,919.7 675.7,926.4 679.4,927.1 685.7,930.2 686.7,935.4 687.8,939.3 687.8,944.3 687,947.7 690.1,949.3 695.7,950.2 700.8,950.2 703.5,947.3 708.3,947.7 715.1,947.5 718.3,946.5 720.8,940.2 724.3,940.8 728.3,944 729.8,949.5 732.2,949.7 733.3,955.2 734.8,958.9 738.3,962.8 743.4,967.4 745.8,970.3 747,975.3 748.5,979.8 750.9,982.8 753.6,987.6 757.1,990.3 756.6,992.7 755.2,998.9 756.6,1002 755.9,1005.3 759.6,1008.3 760.9,1012.9 763.5,1014.6 768.6,1016.5 770.9,1017.9 774.8,1019.5 778,1021.7 780.9,1025.4 781.7,1030.4 786,1034.4 785.9,1037.9 787.2,1041.5 789.5,1043.8 790.9,1047.9 795.6,1049.8 798.5,1052.9 803.9,1050.4 807,1050 811,1050.4 814.9,1052.8 820,1055.4 821,1051.9 823.5,1047.2 825,1045.4 829.9,1047.7 835,1049.2 840.2,1047.8 845.1,1045.4 848.4,1045.2 855.1,1047.9 860.9,1044.1 862.6,1040.4 867.3,1039.7 872.2,1042.3 875.1,1041.7 878.2,1040.7 883.8,1042.2 887.6,1042.9 892,1043.7 893.9,1046.8 897.7,1047.9 902.5,1047.8 907.7,1045.4 911.9,1046.4 916.4,1045.1 921.5,1045.4"/>
<path d="M748,732.8 751.8,733.3 757.9,737.1 760.5,739 763,742.8 759.1,745.7 757,748.8 753,750.3 752.8,754.7 753.6,760.2 755.5,762.8 755.4,765.4 753.3,769.8 753,775.4 751.2,780.2 746.5,782.3 745.5,785.4 743,788.1 743.8,792.9 740.5,797.9 737.7,799 737.2,803.3 733,806.7 731.5,809.7 725.5,812.9 725.9,815.7 725.5,820.5 720.1,823.3 716.4,825.2 712.9,825.5 708.2,826.6 703.6,829 700.4,830.5 699.2,833.4 697.9,838 694.4,838.3 687.4,837.5 686.3,837.4 680.4,836.7 679.1,840.5 677.6,845.7 676.6,849.6 675.4,853 676.1,856 673.6,859.8 672.9,865.6 671.9,869.6 671,872.7 667.8,878.1 665.6,883.5 661.4,885.6 660.3,888.1 660.3,893.8 659.2,896.8 660.3,900.6 657.7,904.3 655.3,908.1"/>
<path d="M505.3,1052.9 510.4,1047.9 514.3,1047.1 520.4,1046.7 525,1044.1 528.5,1044.2 531.6,1042.9 530.9,1046.9 530.4,1051.7 535.7,1052.4 540.4,1051.7 545,1050.3 547.9,1047.9 549.5,1051.5 552.9,1054.2 555.5,1052.7 560.5,1052.9 562.3,1050.8 564.4,1046.1 564.7,1041.6 566.4,1038 569.4,1037.4 570.5,1032.9 570.2,1027.8 567.6,1024.2 568,1020.4 568.6,1015 571.5,1011.6 570.3,1009.2 573,1005.3 571.7,1000.3 570,996.1 568,992.8 565.4,986.5 565.5,982.8 565.1,978.9 561,974.3 560.5,970.3 558.3,966.7 557.2,963.9 555.4,960.3 551.7,958.6 547.9,952.7 549.3,948.2 550.4,945.2 545.1,941.7 541.7,939 546.6,937.5 548.8,937.1 552.9,935.2 555.6,934.1 562.5,933.8 565.5,935.2 570.7,935.3 574.1,932.3 578,932.7 580.4,927.7 583.9,925.6 585.5,922.7 590.2,922.4 595.5,921.4 600.8,922 602.8,920 607.4,921.2 610.6,920.2 614.2,919.6 617.5,921 622.3,918.3 625.6,918.9 631,923.4 633.1,926.4 637.8,921.8 640.6,920.2 643.6,916.1 646.6,914.3 648.1,911.4 650,909.3 654.4,907.6"/>
<path d="M921.5,1045.4 922.9,1050.3 925.2,1055.4 927.2,1058.4 932.7,1063 935.4,1065.7 938.4,1067.6 942.8,1070.5 945.2,1072.9 948.7,1077.5 950.3,1080.5 952.7,1085 953,1086.5 955.3,1090.5 954.5,1094.7 955.5,1099 954,1103 956.5,1106.4 956.6,1112.1 957.8,1115.6 957.9,1120.1 960.3,1123.1 959,1127.2 955.4,1130.9 952.8,1133.1 949.5,1134.8 945.3,1140.6 942.4,1142.1 940.4,1146.2 937.5,1147.9 934,1150.6 936.6,1153.4 937.2,1156.7 940.3,1160.7 943.2,1162.9 945.8,1166.8 950.3,1170 949.6,1173.1 950.3,1180 947.1,1182.5 943.7,1186.8 942.8,1190.1 943.2,1192.7 946.3,1197.2 949,1200.1 947.6,1204.2 948.9,1209.4 946.9,1211.1 949.1,1216 947.8,1220.1 950.3,1226.4 946.6,1226.4 940.3,1227.6 936.9,1225.6 934.9,1223.9 930.2,1222.6 930.4,1227.1 927.7,1231.1 927.7,1235.2 924.1,1237.7 920.2,1242.7 916.9,1248 912.7,1250.2 911.9,1252.5 912.6,1258.5 910.5,1260.5 910.2,1265.2 908.4,1268.6 906.7,1271.8 904.2,1273.9 900.2,1277.7 899.3,1282.8 900.1,1286 898.1,1288.3 897.7,1292.8 894.3,1297.1 892.7,1300.3"/>
<path d="M892.7,1300.3 887.6,1297.8 884,1298 878.9,1301.5 875.1,1297.8 871.3,1299.5 867.3,1300.1 863.7,1303.7 860.1,1305.3 855,1304 852.6,1302.8 849.7,1298.3 844.1,1296.3 843,1293.1 840,1290.3 836,1289.7 832.9,1288.1 826.3,1289.7 824.6,1289.1 820,1287.8 816.2,1292.4 815.4,1293.5 811,1297.9 811.2,1301 811,1306.8 808.6,1307.9 808.5,1312.9 806.4,1317.5 804.1,1318.5 801.5,1323 800.9,1325.7 798.5,1328 799.1,1332.4 797.7,1336 795.9,1340.5 792.5,1342.6 788.3,1343 784.3,1347.9 780.9,1348 777.6,1352.8 778.3,1356.1 775.9,1360.5 773.2,1361.5 770,1366.6 765.9,1368.1 762.7,1371.2 758.4,1373.1 763.4,1400.6 760.8,1406 758.7,1407.2 756.8,1410.9 752.1,1415 750.9,1418.2 747.9,1422.3 747.4,1424.4 746.6,1427.3 744.5,1431.7 741.4,1434.6 740.8,1438.2 737.8,1441.2 733.2,1442.8 729.6,1443 726.8,1445.1 723.3,1447.5 718.9,1449.7 715.8,1450 711.9,1449.9 707.5,1450.3 706.1,1451.3 702.4,1451.3 699.1,1454.2 693.9,1455.3 690.7,1455 665.7,1463.8 662.8,1462.7 656.3,1461.9 653.2,1460 650.8,1461.8 646.7,1462.3 643.1,1465.1 638.8,1467 636,1465.4 631,1466.4 625.6,1467.6 628.1,1471.6 632.2,1473.5 635.6,1477.6 632.8,1478.2 627.6,1475.6 624.6,1475.9 618.2,1473.4 615.6,1472.6 611.9,1475.9 608.1,1474.9 604.3,1478.6 600.5,1480.1 601.6,1482.3 602.5,1488.7 602.1,1492.5 603.2,1495.7 603.4,1498.4 603,1502.6 599.7,1507.6 597.5,1510.4 598.2,1514.9 595.5,1517.7 593.8,1520.6 593,1525.2 595,1528.2 598.1,1532.9 600.5,1535.2 603.2,1536.7 607.8,1536.1 610.5,1538.5 615.6,1540.2 616.2,1544.6 617,1547.4 617.2,1551 620.2,1555 620.6,1557.7 622.1,1562.1 623.7,1565 625.6,1570.3 622.9,1572.4 618.7,1572.7 615.6,1575.3 618.7,1577.6 623.1,1582.8 620.6,1585 620.3,1588.1 617.1,1591.5 615.6,1595.3 614.6,1598.5 613.1,1601.9 611.3,1605.1 607.6,1609.5 607.6,1611.1 605.6,1615.4 603.6,1618.4 597.7,1620.4 598.2,1623 592.2,1624.9 590.5,1627.9 588.6,1632.7 587.5,1635 585.5,1640.4 583.5,1642.4 583.9,1646.6 583.3,1651.1 580.5,1655.4 580.5,1660.5"/>
<path d="M892.7,1300.3 893.4,1304.9 896.6,1307.8 898.3,1313.4 900.2,1315.3 901.4,1318.2 902.6,1321.4 904,1328.2 905.2,1330.4 904.5,1335.2 903.1,1339.5 901.4,1341.2 900.2,1345.4 902.8,1346.9 902.4,1351.5 905.6,1355.1 907.7,1357.9 912.5,1355.8 916.2,1353.3 920.2,1352.9 923.3,1351.9 926.7,1354.2 931.6,1353.1 933.7,1354.8 939.2,1355.5 942.8,1355.4 944.3,1351.2 946.7,1348.1 950.3,1346.5 952.8,1342.9 954.3,1337.8 954.9,1334.7 956.8,1332.3 959.5,1328.3 960.3,1322.8 963.4,1320.3 963.8,1316.1 967.9,1313.7 970.3,1310.3 973.3,1309.8 977.8,1305.3 979,1311 982.1,1313.3 982.8,1317.8 986.8,1316.4 990.4,1317.8 990.9,1320.9 991.8,1324.3 995.4,1327.7 995.4,1331.6 999.1,1335.4 998.7,1339 1000.9,1344.2 1000.4,1347.9 1001.1,1350.5 1004.8,1354.4 1005.4,1357.9 1007.4,1355.2 1009.3,1349.2 1010.4,1345.4 1011,1340.1 1013.2,1338.4 1015.4,1332.9 1015.7,1329.1 1018.8,1325.9 1020.4,1320.3 1023.8,1314.8 1025.4,1311.6 1029.6,1315.3 1032.9,1317.8 1034.5,1312.9 1038.4,1311.3 1038.1,1307.8 1040.5,1305.3 1043.2,1305.1 1048.1,1301.4 1052,1301.3 1054.2,1300.3 1059.2,1305.3 1061.1,1310.9 1060.8,1312.8 1063,1317.8 1066.5,1321.9 1069,1325.1 1069.3,1327.8 1075.6,1326.5 1076.5,1324.9 1083,1324.1 1085.6,1320.7 1085.6,1316.6 1089.6,1318.3 1093.4,1320.2 1095.6,1322.8 1098.8,1325.4 1101.6,1326.4 1104,1327.5 1107.2,1330.6 1110.6,1332.9 1112.2,1335.4 1113.8,1341 1117.2,1343.5 1118.1,1347.9 1119.9,1354.2 1120.6,1357.9 1122.6,1362 1124.4,1367.9 1127,1372.2 1130.5,1375.1 1130.6,1378 1132.8,1379.5 1134.9,1384.9 1135.7,1388 1137,1392.1 1140.7,1395.5 1141.5,1399 1140.6,1403.1 1140.8,1407.5 1139.4,1410.5 1142.8,1412.1 1148.2,1411.8 1152.9,1414.6 1154,1414.4 1158.2,1418 1162.2,1420.9 1167,1423 1168.5,1420.2 1172.1,1415.4 1173.2,1413 1176.9,1412.1 1180.8,1409.3 1184.4,1408 1188.6,1409.9 1192.4,1408.5 1195.8,1408 1200.5,1411.7 1204.4,1411.4 1206.7,1414.1 1210.8,1415.5 1213.7,1415.6 1218.8,1414"/>
<path d="M1218.8,1413.9 1217.7,1416.9 1221,1423.6 1220.6,1424.8 1220.1,1430.2 1220.8,1433.7 1221.2,1437.3 1222.4,1441.4 1225.1,1445.3 1228.2,1450.5 1230.5,1454.3 1232.6,1456.5 1234,1459.3 1237.8,1465 1241.4,1467.8 1240.7,1470.6 1237,1474.2 1236.4,1477.8 1231.6,1479.8 1228.9,1481.9 1226,1485.1 1222.6,1489.4 1220.1,1490.4 1217.6,1495.4 1210.1,1520.4 1206.1,1523.9 1201.8,1524.6 1199.2,1529.4 1196.6,1529.4 1192.5,1532.9 1192,1537.7 1189.9,1543.2 1187.5,1545.5 1183.7,1548 1180,1550.5"/>
<path d="M1459.3,1266.8 1456.4,1267.1 1450.4,1268.2 1448.4,1270.4 1445,1270.1 1440.5,1270.6 1435.5,1275.6 1430.7,1272.8 1428,1273.1 1425.1,1268.9 1420.5,1265.6 1416.9,1264.9 1410.5,1266.8 1409.9,1271.1 1409.2,1275.6 1408.4,1280.1 1405.5,1283.1 1409.3,1283.5 1414.6,1283.7 1418,1285.6 1420.5,1287.3 1423,1293.1 1423.6,1297.7 1426.8,1303.1 1424.2,1308.2 1423,1311.9 1416.4,1310.3 1413,1310.6 1409.6,1312.2 1405,1313.1 1402.6,1313.2 1398,1313.2 1394.4,1315.8 1390.4,1317 1387.9,1318.2 1383.7,1320.7 1380.4,1323.2 1376.8,1325.8 1372.9,1330 1369.5,1331 1363.4,1332.8 1360.4,1332.5 1359.4,1337.3 1359.1,1342.5 1356.5,1345.1 1352.9,1350.1 1348.6,1349.4 1343.9,1351.6 1340.3,1351.3 1338.9,1355.7 1338.4,1360.6 1336.6,1362.6 1334.2,1364.7 1332.8,1370.1 1335.1,1372.5 1340.3,1377.6 1338.3,1380.1 1333,1382.7 1330.3,1382.6 1325.9,1381.3 1322.9,1379.7 1317.8,1378.9 1317.8,1384 1317.8,1387.6 1312.8,1392.7 1314.1,1396 1316.5,1400.2 1322,1401.2 1324.9,1405.5 1327.8,1405.2 1331.7,1404.6 1337.8,1406.4 1340.2,1411.7 1340.3,1415.2 1344.2,1418 1346.6,1420.2 1345.5,1423.8 1346.7,1429.3 1345.3,1432.2 1345.3,1435.2 1340.3,1437.7 1335.7,1437 1332.8,1434 1329.9,1437.5 1327.8,1442.8 1322.2,1443.8 1319,1444 1315.8,1440.7 1313.9,1439.5 1310.3,1435.2 1307.6,1431.8 1305.3,1429 1301.9,1427.8 1297,1426.7 1294.9,1428.5 1290.2,1426.5 1284.2,1423.3 1280.2,1422.7 1281.1,1419.2 1280.2,1412.7 1277,1412 1271.6,1415.4 1267.7,1415.2 1264.8,1415.7 1260.4,1417.5 1255.2,1420.2 1252.3,1421.5 1247.5,1421.9 1243.2,1425.5 1240.1,1425.2 1235.5,1421.1 1233.7,1420.3 1230.1,1415.2 1226.5,1415.4 1222,1415.7 1218.8,1413.9"/>
<path d="M1012.9,980.3 1013,983.3 1014.6,986.9 1017.9,990.3 1022.4,993.5 1024.8,995 1027.9,997.8 1033.4,998.5 1035.4,1000.3 1038.5,1000.4 1041.6,996 1045.5,995.3 1051.6,996.1 1055.5,996.6 1058.5,999.4 1060.7,1001.1 1063,1005.3 1065.9,1002.4 1070.1,1002 1073,1000.3 1075.3,997.5 1075.5,992.8 1077.6,989.5 1080.5,986.6 1085.6,990.3 1085.8,994.3 1089.4,998.2 1090.6,1002.8 1091.8,1006.5 1096,1011.5 1096.8,1015.4 1097.3,1020.7 1098.1,1025.4 1101.7,1024.6 1106.2,1025.8 1110.6,1027.9 1115,1033.2 1118.1,1034.2 1121.4,1035.6 1126.8,1035.3 1129.4,1035.4 1130.2,1039.2 1129.5,1043.3 1130.6,1047.9 1130.4,1051.3 1129,1055.4 1131,1057.9 1129.4,1063 1126.6,1063.8 1122.5,1065.5 1118.1,1068 1117.7,1071.6 1117,1075.1 1116.9,1080.5 1121.2,1082.1 1126.1,1083.8 1128.1,1085.5 1133.2,1089.3 1138.4,1088.3 1141.6,1086.5 1143.2,1084.3 1149.5,1086.1 1153.2,1086.8 1156.6,1087.7 1163.2,1090.5 1169.2,1089.5 1170.8,1086.7 1175.7,1085.5 1175.3,1080.3 1175.4,1075.6 1175.3,1072.6 1177,1068 1182.1,1069.3 1187.5,1068.9 1190,1067.5 1194.5,1068.7 1200,1067.6 1203.6,1069.8 1205.2,1071.3 1208.7,1076.3 1210.6,1077.1 1215.8,1081.1 1217.6,1082.7 1220.6,1084.2 1225.1,1086.4 1227.8,1083.7 1228,1080 1230.1,1075.2 1232.2,1071.4 1232,1068.1 1232.3,1064.4 1233.4,1062.2 1235.4,1056.7 1233.9,1054.4 1236.4,1050.1 1237.8,1047 1237.1,1041.8 1240.2,1039.6 1240,1035 1240.8,1031.1 1241.4,1027.6 1247,1030.4 1251,1031.4 1255.2,1031.3 1259.6,1030 1262.7,1028.4 1265.2,1026.3 1267.6,1027.1 1272.7,1026.3 1276.4,1030.7 1277.7,1035.1 1281.7,1036.3 1287.7,1038.8 1289.2,1042.4 1292.7,1047.6 1294.3,1050.9 1296.4,1054.5 1300.3,1057.6 1303.1,1060 1307.8,1060.1 1307.9,1063 1310.3,1067.6 1313.6,1067.1 1317.8,1066.4 1321.5,1063.8 1322.2,1061.8 1324.8,1058.6 1327.8,1055.1 1332.7,1056.2 1335.3,1058.9 1338.7,1065.1 1340.3,1067.6 1342.7,1068.5 1348,1068.7 1351.1,1068.7 1355.4,1067.1 1358.9,1063.7 1361.6,1061.4 1363.7,1057.5 1366.7,1054 1370.4,1050.1 1373.8,1046.9 1377.2,1044.9 1380.4,1040.1"/>
</g>
<g opacity="0.87">
<ellipse class="el" cx="566" cy="1479" rx="92.8" ry="128.4" fill="#912db4"/>
<ellipse class="el" cx="428" cy="1547" rx="78.1" ry="107.2" fill="#4435b0"/>
<ellipse class="el" cx="710" cy="1430" rx="69.4" ry="96.5" fill="#333cac"/>
<ellipse class="el" cx="633" cy="1597" rx="68.0" ry="92.9" fill="#3344ae"/>
<ellipse class="el" cx="902" cy="1482" rx="66.5" ry="92.0" fill="#3346ae"/>
<ellipse class="el" cx="695" cy="1316" rx="63.2" ry="88.9" fill="#334fad"/>
<ellipse class="el" cx="564" cy="1310" rx="62.7" ry="88.2" fill="#324fac"/>
<ellipse class="el" cx="835" cy="690" rx="57.1" ry="86.2" fill="#3150ab"/>
<ellipse class="el" cx="810" cy="1539" rx="62.4" ry="85.8" fill="#3150ab"/>
<ellipse class="el" cx="1119" cy="1538" rx="29.5" ry="40.5" fill="#fad692"/>
<ellipse class="el" cx="1179" cy="1497" rx="41.1" ry="56.8" fill="#96c9e9"/>
<ellipse class="el" cx="1228" cy="1371" rx="60.6" ry="84.7" fill="#3151ac"/>
<ellipse class="el" cx="825" cy="1268" rx="57.9" ry="81.8" fill="#3664b5"/>
<ellipse class="el" cx="135" cy="658" rx="53.5" ry="81.1" fill="#3767b8"/>
<ellipse class="el" cx="339" cy="655" rx="53.2" ry="80.7" fill="#3868b9"/>
<ellipse class="el" cx="932" cy="619" rx="52.7" ry="80.3" fill="#396bba"/>
<ellipse class="el" cx="483" cy="468" rx="50.0" ry="77.6" fill="#4078c3"/>
<ellipse class="el" cx="1755" cy="1806" rx="57.1" ry="76.4" fill="#427cc5"/>
<ellipse class="el" cx="670" cy="688" rx="49.8" ry="75.2" fill="#4680c9"/>
<ellipse class="el" cx="735" cy="872" rx="40.9" ry="60.4" fill="#84bce6"/>
<ellipse class="el" cx="1023" cy="1158" rx="51.4" ry="73.6" fill="#4887ce"/>
<ellipse class="el" cx="680" cy="767" rx="48.9" ry="73.2" fill="#4989cf"/>
<ellipse class="el" cx="600" cy="1166" rx="50.9" ry="72.8" fill="#4a8ad0"/>
<ellipse class="el" cx="940" cy="1308" rx="49.9" ry="70.2" fill="#4e93d8"/>
<ellipse class="el" cx="1234" cy="1161" rx="47.9" ry="68.4" fill="#569cde"/>
<ellipse class="el" cx="969" cy="675" rx="45.0" ry="68.0" fill="#589dde"/>
<ellipse class="el" cx="996" cy="1699" rx="50.3" ry="68.0" fill="#d61616"/>
<ellipse class="el" cx="1179" cy="1219" rx="46.2" ry="65.7" fill="#63a4df"/>
<ellipse class="el" cx="460" cy="734" rx="42.8" ry="64.3" fill="#6face0"/>
<ellipse class="el" cx="1299" cy="1236" rx="45.3" ry="64.3" fill="#6face0"/>
<ellipse class="el" cx="1839" cy="1667" rx="47.4" ry="64.3" fill="#e0412d"/>
<ellipse class="el" cx="690" cy="1013" rx="42.9" ry="62.4" fill="#7ab5e3"/>
<ellipse class="el" cx="1229" cy="1062" rx="43.2" ry="62.4" fill="#7ab5e3"/>
<ellipse class="el" cx="803" cy="1130" rx="43.5" ry="62.4" fill="#7ab5e3"/>
<ellipse class="el" cx="771" cy="1647" rx="45.5" ry="61.9" fill="#7cb8e3"/>
<ellipse class="el" cx="853" cy="290" rx="38.7" ry="61.4" fill="#7eb9e4"/>
<ellipse class="el" cx="257" cy="783" rx="41.1" ry="61.4" fill="#7eb9e4"/>
<ellipse class="el" cx="1547" cy="1506" rx="44.2" ry="60.9" fill="#82bae6"/>
<ellipse class="el" cx="1120" cy="1290" rx="42.5" ry="59.9" fill="#86bfe6"/>
<ellipse class="el" cx="791" cy="515" rx="38.5" ry="59.4" fill="#8ac0e7"/>
<ellipse class="el" cx="924" cy="1609" rx="43.5" ry="59.4" fill="#8ac0e7"/>
<ellipse class="el" cx="622" cy="554" rx="38.0" ry="58.4" fill="#8fc3e8"/>
<ellipse class="el" cx="1024" cy="1454" rx="41.7" ry="57.8" fill="#92c5e8"/>
<ellipse class="el" cx="588" cy="1053" rx="38.9" ry="56.2" fill="#9acbe9"/>
<ellipse class="el" cx="1204" cy="457" rx="35.5" ry="55.2" fill="#9ecfea"/>
<ellipse class="el" cx="859" cy="877" rx="36.2" ry="53.5" fill="#a5d3eb"/>
<ellipse class="el" cx="1135" cy="717" rx="34.4" ry="51.7" fill="#add8ed"/>
<ellipse class="el" cx="587" cy="852" rx="34.9" ry="51.7" fill="#add8ed"/>
<ellipse class="el" cx="852" cy="978" rx="34.6" ry="50.5" fill="#b1d9ee"/>
<ellipse class="el" cx="1418" cy="1619" rx="37.1" ry="50.5" fill="#b1d9ee"/>
<ellipse class="el" cx="1040" cy="446" rx="31.3" ry="48.7" fill="#b8dcee"/>
<ellipse class="el" cx="467" cy="889" rx="32.2" ry="47.4" fill="#bbdeef"/>
<ellipse class="el" cx="1251" cy="886" rx="32.2" ry="47.4" fill="#bbdeef"/>
<ellipse class="el" cx="478" cy="988" rx="37.8" ry="55.2" fill="#9ecfea"/>
<ellipse class="el" cx="1470" cy="1168" rx="32.7" ry="46.8" fill="#fec078"/>
<ellipse class="el" cx="881" cy="790" rx="30.9" ry="46.1" fill="#c0e0f0"/>
<ellipse class="el" cx="904" cy="518" rx="28.6" ry="44.1" fill="#c5e2f2"/>
<ellipse class="el" cx="937" cy="931" rx="26.0" ry="38.2" fill="#dcebf7"/>
<ellipse class="el" cx="1014" cy="309" rx="23.6" ry="37.4" fill="#dfedf8"/>
<ellipse class="el" cx="1291" cy="1568" rx="23.5" ry="32.2" fill="#fef1b5"/>
<ellipse class="el" cx="877" cy="400" rx="18.7" ry="29.2" fill="#f1f5f8"/>
<ellipse class="el" cx="1563" cy="654" rx="18.6" ry="28.1" fill="#fef8cf"/>
<ellipse class="el" cx="1376" cy="569" rx="17.6" ry="27.0" fill="#f2f6f8"/>
<ellipse class="el" cx="1027" cy="947" rx="17.7" ry="25.9" fill="#f2f6f8"/>
<ellipse class="el" cx="1523" cy="736" rx="16.4" ry="24.7" fill="#fef8d3"/>
<ellipse class="el" cx="1377" cy="642" rx="15.4" ry="23.4" fill="#f3f6f9"/>
<ellipse class="el" cx="1235" cy="657" rx="13.6" ry="20.6" fill="#f5f7f9"/>
<ellipse class="el" cx="1284" cy="790" rx="11.7" ry="17.4" fill="#f5f6f8"/>
<ellipse class="el" cx="1405" cy="793" rx="10.5" ry="15.6" fill="#fdf8d8"/>
<ellipse class="el" cx="1443" cy="1360" rx="11.1" ry="15.6" fill="#fdf8d8"/>
<ellipse class="el" cx="1387" cy="1450" rx="5.6" ry="7.8" fill="#fdf8dc"/>
</g>
<defs><g id="lb" font-family="'Liberation Sans',sans-serif" font-size="41.5" text-anchor="middle">
<text x="853" y="302.1">62</text>
<text x="1014" y="321.1">23</text>
<text class="n" x="877" y="412.1">14</text>
<text x="1040" y="458.1">39</text>
<text x="1204" y="469.1">50</text>
<text x="483" y="480.1">99</text>
<text x="791" y="527.1">58</text>
<text x="904" y="530.1">32</text>
<text x="622" y="566.1">56</text>
<text class="n" x="1376" y="581.1">12</text>
<text class="n" x="932" y="631.1">106</text>
<text x="1377" y="654.1">9</text>
<text class="n" x="1563" y="666.1">-13</text>
<text class="n" x="339" y="667.1">107</text>
<text x="1235" y="669.1">7</text>
<text class="n" x="135" y="670.1">108</text>
<text x="969" y="687.1">76</text>
<text x="670" y="700.1">93</text>
<text class="n" x="835" y="702.1">122</text>
<text x="1135" y="729.1">44</text>
<text x="460" y="746.1">68</text>
<text class="n" x="1523" y="748.1">-10</text>
<text x="680" y="779.1">88</text>
<text x="257" y="795.1">62</text>
<text x="881" y="802.1">35</text>
<text x="1284" y="802.1">5</text>
<text x="1405" y="805.1">-4</text>
<text x="587" y="864.1">44</text>
<text x="735" y="884.1">60</text>
<text x="859" y="891.1">47</text>
<text x="1251" y="898.1">37</text>
<text x="467" y="901.1">37</text>
<text x="1368" y="904.1">0</text>
<text x="937" y="943.1">24</text>
<text class="n" x="1027" y="959.1" letter-spacing="-1.3">11</text>
<text x="852" y="990.1">42</text>
<text x="478" y="1000.1">50</text>
<text x="690" y="1025.1">64</text>
<text x="588" y="1065.1">52</text>
<text x="1229" y="1076.6">64</text>
<text x="803" y="1142.1">64</text>
<text x="1023" y="1170.1">89</text>
<text x="1234" y="1173.1">77</text>
<text x="600" y="1176.1">87</text>
<text x="1470" y="1180.1">-36</text>
<text class="n" x="1179" y="1231.1">71</text>
<text x="1299" y="1248.1">68</text>
<text class="n" x="825" y="1280.1" letter-spacing="-1.3">110</text>
<text x="1120" y="1302.1">59</text>
<text class="n" x="938" y="1319.1">81</text>
<text class="n" x="564" y="1322.1">128</text>
<text class="n" x="695" y="1328.1">130</text>
<text x="1443" y="1372.1">-4</text>
<text class="n" x="1228" y="1383.1" letter-spacing="-1.3">118</text>
<text class="n" x="710" y="1442.1">153</text>
<text class="n" x="1385" y="1459.6">-1</text>
<text x="1024" y="1466.1">55</text>
<text class="n" x="566" y="1491.1">271</text>
<text class="n" x="902" y="1494.1">139</text>
<text x="1179" y="1509.1">53</text>
<text class="n" x="1547" y="1518.1">61</text>
<text x="1119" y="1550.1">-27</text>
<text class="n" x="810" y="1551.1">121</text>
<text class="n" x="428" y="1559.1">189</text>
<text class="n" x="1291" y="1580.1">-17</text>
<text class="n" x="633" y="1609.1">142</text>
<text x="924" y="1621.1">58</text>
<text x="1413" y="1626.4">42</text>
<text x="771" y="1659.1">63</text>
<text x="1839" y="1679.1">-68</text>
<text x="996" y="1711.1">-76</text>
<text x="1755" y="1818.1">96</text>
</g></defs>
<use href="#lb" fill="#fff" stroke="#fff" stroke-width="8.4" stroke-linejoin="round"/>
<use href="#lb" fill="#000" stroke="#000" stroke-width="0.5" stroke-linejoin="round"/>
<text class="tn" transform="scale(1.0,1)" x="709.7 752.7 797.2 841.3 892.3 913.8 957.8 977.3 1013.3 1059.7 1101 1122.8 1180.5 1230.7 1266.6 1296.5 1320.4 1347.8 1400.7 1443.7 1494.3 1535.7 1604 1647.2 1691.7 1729.7 1752.3 1789.2 1827.1 1864" y="76.6" font-size="66" font-weight="bold" stroke="#fff" stroke-width="4">PRECIPITATIONS - DECEMBRE 2020</text>
<text class="tn" transform="scale(1.0,1)" x="1027.1 1058.6 1086.3 1114.7 1134.8 1153.1 1170 1198.1 1213.8 1228.8 1256.3 1267.5 1309.2 1341.3 1368 1396.8 1427 1458.7 1486.2 1501.3 1524.2 1554.3 1581.2 1605.7 1627 1656.2 1683.4 1706.4 1737 1749.3 1770.7 1799.5 1830.1 1835.2 1885.2" y="146.8" font-size="50.5" font-weight="bold" stroke="#fff" stroke-width="3.4">Ecart à la moyenne 1981-2010 (en %)</text>
<text class="t" transform="scale(0.86,1)" x="1754.9 1794.6 1809.9 1824.1 1857.3 1892.5 1908.8" y="310.9" font-size="57.5" font-weight="bold" stroke="#fff" stroke-width="1">Bilan :</text>
<text class="t" transform="scale(0.88,1)" x="1703.4 1748.2 1790.3 1831" y="403.2" font-size="76" font-weight="bold" style="fill:#02fdfd;stroke:#02fdfd" stroke-width="1.2">+57%</text>
<text class="t" x="138" y="311.5" text-anchor="middle" font-size="36" textLength="158" lengthAdjust="spacingAndGlyphs">Données :</text>
<text class="t" x="139" y="357" text-anchor="middle" font-size="36" textLength="229" lengthAdjust="spacingAndGlyphs">Météo-France</text>
<g>
<rect x="0" y="0" width="271" height="271" fill="#05203d"/>
<path d="M0,262 C90,243 180,232 271,229 L271,271 L0,271Z" fill="#2660b4"/>
<text x="10" y="113" font-family="'Liberation Sans',sans-serif" font-size="84" fill="#fff" stroke="#05203d" stroke-width="2.2" paint-order="fill stroke" textLength="241" lengthAdjust="spacingAndGlyphs">meteo</text>
<text x="6" y="194" font-family="'Liberation Sans',sans-serif" font-size="86" font-weight="bold" fill="#f7941d" textLength="202" lengthAdjust="spacingAndGlyphs">Villes</text>
<text x="208" y="195" font-family="'Liberation Sans',sans-serif" font-size="27" fill="#8d9cbd" textLength="58" lengthAdjust="spacingAndGlyphs">.com</text>
<text x="268" y="259" text-anchor="end" font-family="'Liberation Sans',sans-serif" font-size="21" fill="#fff" stroke="#fff" stroke-width="0.6" textLength="72" lengthAdjust="spacingAndGlyphs">Officiel</text>
</g>
</svg></body></html>
